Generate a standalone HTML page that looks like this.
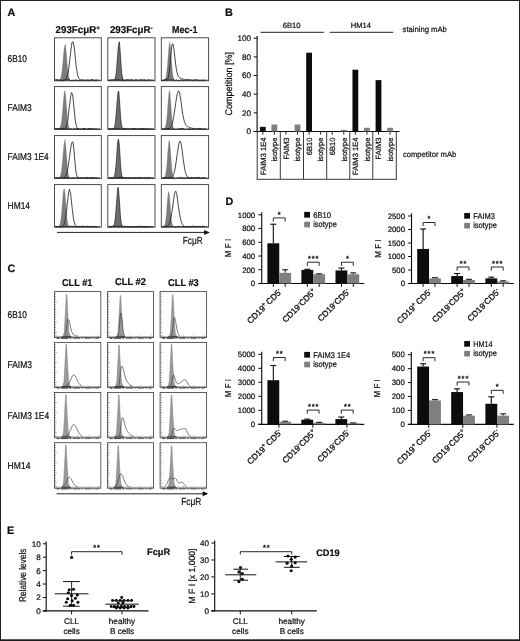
<!DOCTYPE html>
<html lang="en"><head><meta charset="utf-8"><title>Figure</title>
<style>
html,body{margin:0;padding:0;background:#fff;}
body{width:520px;height:641px;overflow:hidden;font-family:"Liberation Sans",Arial,sans-serif;}
svg{display:block;}
svg text{font-family:"Liberation Sans",Arial,sans-serif;}
</style></head><body>
<svg width="520" height="641" viewBox="0 0 520 641" shape-rendering="auto" text-rendering="geometricPrecision">
<defs><filter id="sb" x="0" y="0" width="100%" height="100%" filterUnits="userSpaceOnUse" primitiveUnits="userSpaceOnUse"><feGaussianBlur stdDeviation="0.35"/></filter></defs>
<g filter="url(#sb)">
<rect x="0" y="0" width="520" height="641" fill="#fff"/>
<rect x="0.5" y="0.5" width="519" height="639.5" fill="none" stroke="#1a1a1a" stroke-width="0.95"/>
<rect x="0" y="639.6" width="520" height="1.4" fill="#1a1a1a"/>
<text x="7.60" y="16.00" font-size="10.8" font-weight="bold" fill="#111" stroke="#111" stroke-width="0.2" >A</text>
<text x="225.10" y="16.00" font-size="10.8" font-weight="bold" fill="#111" stroke="#111" stroke-width="0.2" >B</text>
<text x="7.60" y="271.60" font-size="10.8" font-weight="bold" fill="#111" stroke="#111" stroke-width="0.2" >C</text>
<text x="225.40" y="205.10" font-size="10.8" font-weight="bold" fill="#111" stroke="#111" stroke-width="0.2" >D</text>
<text x="6.90" y="534.20" font-size="10.8" font-weight="bold" fill="#111" stroke="#111" stroke-width="0.2" >E</text>
<text x="55.60" y="32.90" font-size="10" font-weight="bold" textLength="44.3" lengthAdjust="spacingAndGlyphs" fill="#111" stroke="#111" stroke-width="0.2" >293FcμR<tspan dy="-3.2" font-size="6.5">+</tspan></text>
<text x="109.90" y="32.90" font-size="10" font-weight="bold" textLength="42.7" lengthAdjust="spacingAndGlyphs" fill="#111" stroke="#111" stroke-width="0.2" >293FcμR<tspan dy="-3.2" font-size="6.5">-</tspan></text>
<text x="172.00" y="32.90" font-size="10" font-weight="bold" textLength="25.4" lengthAdjust="spacingAndGlyphs" fill="#111" stroke="#111" stroke-width="0.2" >Mec-1</text>
<text x="7.60" y="62.00" font-size="9.9" textLength="19.4" lengthAdjust="spacingAndGlyphs" fill="#111" stroke="#111" stroke-width="0.22" >6B10</text>
<text x="7.60" y="110.60" font-size="9.9" textLength="24.1" lengthAdjust="spacingAndGlyphs" fill="#111" stroke="#111" stroke-width="0.22" >FAIM3</text>
<text x="7.60" y="159.60" font-size="9.9" textLength="41.1" lengthAdjust="spacingAndGlyphs" fill="#111" stroke="#111" stroke-width="0.22" >FAIM3 1E4</text>
<text x="7.60" y="208.70" font-size="9.9" textLength="22.4" lengthAdjust="spacingAndGlyphs" fill="#111" stroke="#111" stroke-width="0.22" >HM14</text>
<path d="M55.50 80.20 L56.00 80.20 L56.50 80.20 L57.00 80.20 L57.50 80.19 L58.00 80.17 L58.50 80.12 L59.00 79.99 L59.50 79.75 L60.00 79.23 L60.50 78.35 L61.00 76.82 L61.50 74.31 L62.00 70.61 L62.50 66.56 L63.00 61.19 L63.50 55.04 L64.00 49.28 L64.50 46.17 L65.00 44.87 L65.50 44.58 L66.00 50.10 L66.50 54.29 L67.00 61.38 L67.50 67.34 L68.00 72.08 L68.50 75.44 L69.00 77.59 L69.50 78.97 L70.00 79.64 L70.50 79.97 L71.00 80.11 L71.50 80.17 L72.00 80.19 L72.50 80.20 L73.00 80.20 L73.50 80.20 L74.00 80.20 L74.50 80.20 L75.00 80.20 L75.50 80.20 L76.00 80.20 L76.50 80.20 L77.00 80.20 L77.50 80.20 L78.00 80.20 L78.50 80.20 L79.00 80.20 L79.50 80.20 L80.00 80.20 L80.50 80.20 L81.00 80.20 L81.50 80.20 L82.00 80.20 L82.50 80.20 L83.00 80.20 L83.50 80.20 L84.00 80.20 L84.50 80.20 L85.00 80.20 L85.50 80.20 L86.00 80.20 L86.50 80.20 L87.00 80.20 L87.50 80.20 L88.00 80.20 L88.50 80.20 L89.00 80.20 L89.50 80.20 L90.00 80.20 L90.50 80.20 L91.00 80.20 L91.50 80.20 L92.00 80.20 L92.50 80.20 L93.00 80.20 L93.50 80.20 L94.00 80.20 L94.50 80.20 L95.00 80.20 L95.50 80.20 L96.00 80.20 L96.50 80.20 L97.00 80.20 L97.50 80.20 L98.00 80.20 L98.50 80.20 L99.00 80.20 L99.50 80.20 L100.00 80.20 L100.00 80.20 L55.50 80.20 Z" fill="#7c7c7c" stroke="#7c7c7c" stroke-width="0.3"/>
<path d="M55.50 80.20 L56.00 80.20 L56.50 80.20 L57.00 80.20 L57.50 80.20 L58.00 80.20 L58.50 80.20 L59.00 80.20 L59.50 80.20 L60.00 80.20 L60.50 80.20 L61.00 80.20 L61.50 80.20 L62.00 80.19 L62.50 80.18 L63.00 80.17 L63.50 80.14 L64.00 80.07 L64.50 79.96 L65.00 79.76 L65.50 79.42 L66.00 78.91 L66.50 78.12 L67.00 76.93 L67.50 75.25 L68.00 73.19 L68.50 70.05 L69.00 66.56 L69.50 62.40 L70.00 57.97 L70.50 53.78 L71.00 49.45 L71.50 46.12 L72.00 42.58 L72.50 41.91 L73.00 41.78 L73.50 43.04 L74.00 46.04 L74.50 49.86 L75.00 54.89 L75.50 59.78 L76.00 64.29 L76.50 68.43 L77.00 71.76 L77.50 74.54 L78.00 76.39 L78.50 77.85 L79.00 78.82 L79.50 79.41 L80.00 79.77 L80.50 79.97 L81.00 80.09 L81.50 80.14 L82.00 80.17 L82.50 80.19 L83.00 80.20 L83.50 80.20 L84.00 80.20 L84.50 80.20 L85.00 80.20 L85.50 80.20 L86.00 80.20 L86.50 80.20 L87.00 80.20 L87.50 80.20 L88.00 80.20 L88.50 80.20 L89.00 80.20 L89.50 80.20 L90.00 80.20 L90.50 80.20 L91.00 80.20 L91.50 80.20 L92.00 80.20 L92.50 80.20 L93.00 80.20 L93.50 80.20 L94.00 80.20 L94.50 80.20 L95.00 80.20 L95.50 80.20 L96.00 80.20 L96.50 80.20 L97.00 80.20 L97.50 80.20 L98.00 80.20 L98.50 80.20 L99.00 80.20 L99.50 80.20 L100.00 80.20" fill="none" stroke="#222" stroke-width="0.85" stroke-linejoin="round"/>
<path d="M55.0 80.2 L56.0 79.73 L57.0 80.01 L58.0 79.99 L59.0 80.46 L60.0 80.75 L61.0 80.19 L62.0 80.73 L63.0 80.79 L64.0 80.75 L65.0 80.10 L66.0 79.94 L67.0 79.95 L68.0 79.92 L69.0 79.92 L70.0 80.39 L71.0 80.69 L72.0 80.62 L73.0 80.23 L74.0 80.42 L75.0 80.58 L76.0 79.79 L77.0 80.43 L78.0 80.70 L79.0 80.56 L80.0 80.53 L81.0 80.23 L82.0 79.90 L83.0 80.57 L84.0 80.07 L85.0 80.58 L86.0 80.77 L87.0 80.14 L88.0 80.14 L89.0 80.74 L90.0 80.50 L91.0 79.89 L92.0 79.84 L93.0 79.87 L94.0 80.70 L95.0 80.59 L96.0 79.86 L97.0 80.61" fill="none" stroke="#1c1c1c" stroke-width="1.0"/>
<rect x="54.50" y="37.80" width="46.80" height="43.00" fill="none" stroke="#3a3a3a" stroke-width="0.9"/>
<path d="M108.80 80.20 L109.30 80.20 L109.80 80.20 L110.30 80.20 L110.80 80.20 L111.30 80.20 L111.80 80.20 L112.30 80.20 L112.80 80.18 L113.30 80.15 L113.80 80.04 L114.30 79.77 L114.80 79.16 L115.30 77.98 L115.80 75.75 L116.30 72.11 L116.80 66.92 L117.30 59.97 L117.80 53.35 L118.30 46.92 L118.80 43.78 L119.30 41.74 L119.80 46.76 L120.30 53.36 L120.80 61.04 L121.30 67.92 L121.80 73.54 L122.30 76.80 L122.80 78.74 L123.30 79.63 L123.80 80.00 L124.30 80.14 L124.80 80.18 L125.30 80.20 L125.80 80.20 L126.30 80.20 L126.80 80.20 L127.30 80.20 L127.80 80.20 L128.30 80.20 L128.80 80.20 L129.30 80.20 L129.80 80.20 L130.30 80.20 L130.80 80.20 L131.30 80.20 L131.80 80.20 L132.30 80.20 L132.80 80.20 L133.30 80.20 L133.80 80.20 L134.30 80.20 L134.80 80.20 L135.30 80.20 L135.80 80.20 L136.30 80.20 L136.80 80.20 L137.30 80.20 L137.80 80.20 L138.30 80.20 L138.80 80.20 L139.30 80.20 L139.80 80.20 L140.30 80.20 L140.80 80.20 L141.30 80.20 L141.80 80.20 L142.30 80.20 L142.80 80.20 L143.30 80.20 L143.80 80.20 L144.30 80.20 L144.80 80.20 L145.30 80.20 L145.80 80.20 L146.30 80.20 L146.80 80.20 L147.30 80.20 L147.80 80.20 L148.30 80.20 L148.80 80.20 L149.30 80.20 L149.80 80.20 L150.30 80.20 L150.80 80.20 L151.30 80.20 L151.80 80.20 L152.30 80.20 L152.80 80.20 L153.30 80.20 L153.80 80.20 L153.80 80.20 L108.80 80.20 Z" fill="#6e6e6e" stroke="#222" stroke-width="0.7" stroke-linejoin="round"/>
<path d="M108.3 80.2 L109.3 80.17 L110.3 80.27 L111.3 80.07 L112.3 79.92 L113.3 80.05 L114.3 80.49 L115.3 79.72 L116.3 80.31 L117.3 80.18 L118.3 79.72 L119.3 80.06 L120.3 80.39 L121.3 80.26 L122.3 79.77 L123.3 80.78 L124.3 80.57 L125.3 80.77 L126.3 79.82 L127.3 79.99 L128.3 79.74 L129.3 80.56 L130.3 80.00 L131.3 79.84 L132.3 80.16 L133.3 80.70 L134.3 80.60 L135.3 79.98 L136.3 79.86 L137.3 80.71 L138.3 80.33 L139.3 80.47 L140.3 79.80 L141.3 79.76 L142.3 80.46 L143.3 80.17 L144.3 79.78 L145.3 80.73 L146.3 80.40 L147.3 80.58 L148.3 79.79 L149.3 80.64 L150.3 79.77" fill="none" stroke="#1c1c1c" stroke-width="1.0"/>
<rect x="107.80" y="37.80" width="47.20" height="43.00" fill="none" stroke="#3a3a3a" stroke-width="0.9"/>
<path d="M162.30 80.20 L162.80 80.19 L163.30 80.17 L163.80 80.11 L164.30 79.95 L164.80 79.62 L165.30 78.91 L165.80 77.48 L166.30 75.18 L166.80 71.61 L167.30 66.57 L167.80 60.56 L168.30 53.82 L168.80 47.80 L169.30 43.96 L169.80 41.99 L170.30 45.50 L170.80 50.43 L171.30 57.78 L171.80 64.41 L172.30 70.42 L172.80 74.52 L173.30 77.29 L173.80 78.77 L174.30 79.59 L174.80 79.97 L175.30 80.12 L175.80 80.17 L176.30 80.19 L176.80 80.20 L177.30 80.20 L177.80 80.20 L178.30 80.20 L178.80 80.20 L179.30 80.20 L179.80 80.20 L180.30 80.20 L180.80 80.20 L181.30 80.20 L181.80 80.20 L182.30 80.20 L182.80 80.20 L183.30 80.20 L183.80 80.20 L184.30 80.20 L184.80 80.20 L185.30 80.20 L185.80 80.20 L186.30 80.20 L186.80 80.20 L187.30 80.20 L187.80 80.20 L188.30 80.20 L188.80 80.20 L189.30 80.20 L189.80 80.20 L190.30 80.20 L190.80 80.20 L191.30 80.20 L191.80 80.20 L192.30 80.20 L192.80 80.20 L193.30 80.20 L193.80 80.20 L194.30 80.20 L194.80 80.20 L195.30 80.20 L195.80 80.20 L196.30 80.20 L196.80 80.20 L197.30 80.20 L197.80 80.20 L198.30 80.20 L198.80 80.20 L199.30 80.20 L199.80 80.20 L200.30 80.20 L200.80 80.20 L201.30 80.20 L201.80 80.20 L202.30 80.20 L202.80 80.20 L203.30 80.20 L203.80 80.20 L204.30 80.20 L204.80 80.20 L205.30 80.20 L205.80 80.20 L206.30 80.20 L206.80 80.20 L207.30 80.20 L207.30 80.20 L162.30 80.20 Z" fill="#7c7c7c" stroke="#7c7c7c" stroke-width="0.3"/>
<path d="M162.30 80.20 L162.80 80.20 L163.30 80.20 L163.80 80.20 L164.30 80.20 L164.80 80.20 L165.30 80.18 L165.80 80.16 L166.30 80.09 L166.80 79.91 L167.30 79.55 L167.80 78.80 L168.30 77.46 L168.80 75.23 L169.30 71.94 L169.80 67.21 L170.30 61.67 L170.80 55.50 L171.30 50.28 L171.80 46.25 L172.30 44.04 L172.80 43.91 L173.30 46.02 L173.80 48.09 L174.30 52.36 L174.80 56.64 L175.30 61.01 L175.80 65.06 L176.30 68.71 L176.80 71.70 L177.30 73.57 L177.80 75.13 L178.30 76.24 L178.80 76.96 L179.30 77.45 L179.80 77.86 L180.30 78.08 L180.80 78.34 L181.30 78.56 L181.80 78.73 L182.30 78.87 L182.80 79.06 L183.30 79.19 L183.80 79.33 L184.30 79.47 L184.80 79.59 L185.30 79.69 L185.80 79.77 L186.30 79.85 L186.80 79.92 L187.30 79.97 L187.80 80.02 L188.30 80.06 L188.80 80.09 L189.30 80.11 L189.80 80.14 L190.30 80.15 L190.80 80.16 L191.30 80.17 L191.80 80.18 L192.30 80.19 L192.80 80.19 L193.30 80.19 L193.80 80.19 L194.30 80.20 L194.80 80.20 L195.30 80.20 L195.80 80.20 L196.30 80.20 L196.80 80.20 L197.30 80.20 L197.80 80.20 L198.30 80.20 L198.80 80.20 L199.30 80.20 L199.80 80.20 L200.30 80.20 L200.80 80.20 L201.30 80.20 L201.80 80.20 L202.30 80.20 L202.80 80.20 L203.30 80.20 L203.80 80.20 L204.30 80.20 L204.80 80.20 L205.30 80.20 L205.80 80.20 L206.30 80.20 L206.80 80.20 L207.30 80.20" fill="none" stroke="#222" stroke-width="0.85" stroke-linejoin="round"/>
<path d="M161.8 80.2 L162.8 80.69 L163.8 80.23 L164.8 79.73 L165.8 79.70 L166.8 80.24 L167.8 80.20 L168.8 80.03 L169.8 79.85 L170.8 80.08 L171.8 80.05 L172.8 80.62 L173.8 79.70 L174.8 80.53 L175.8 80.62 L176.8 79.83 L177.8 80.72 L178.8 80.48 L179.8 80.69 L180.8 80.02 L181.8 80.11 L182.8 80.13 L183.8 80.80 L184.8 80.35 L185.8 80.10 L186.8 80.17 L187.8 80.00 L188.8 79.75 L189.8 79.81 L190.8 80.62 L191.8 80.01 L192.8 80.73 L193.8 79.97 L194.8 79.99 L195.8 80.26 L196.8 79.91 L197.8 80.11 L198.8 80.75 L199.8 80.67 L200.8 80.59 L201.8 80.39 L202.8 80.70 L203.8 80.73 L204.8 80.30" fill="none" stroke="#1c1c1c" stroke-width="1.0"/>
<rect x="161.30" y="37.80" width="47.30" height="43.00" fill="none" stroke="#3a3a3a" stroke-width="0.9"/>
<path d="M55.50 128.90 L56.00 128.90 L56.50 128.90 L57.00 128.89 L57.50 128.88 L58.00 128.85 L58.50 128.77 L59.00 128.60 L59.50 128.21 L60.00 127.55 L60.50 126.28 L61.00 124.27 L61.50 121.25 L62.00 116.75 L62.50 111.11 L63.00 105.94 L63.50 99.36 L64.00 94.99 L64.50 91.21 L65.00 90.82 L65.50 93.82 L66.00 99.20 L66.50 106.02 L67.00 112.28 L67.50 118.65 L68.00 123.12 L68.50 125.77 L69.00 127.42 L69.50 128.29 L70.00 128.67 L70.50 128.82 L71.00 128.87 L71.50 128.89 L72.00 128.90 L72.50 128.90 L73.00 128.90 L73.50 128.90 L74.00 128.90 L74.50 128.90 L75.00 128.90 L75.50 128.90 L76.00 128.90 L76.50 128.90 L77.00 128.90 L77.50 128.90 L78.00 128.90 L78.50 128.90 L79.00 128.90 L79.50 128.90 L80.00 128.90 L80.50 128.90 L81.00 128.90 L81.50 128.90 L82.00 128.90 L82.50 128.90 L83.00 128.90 L83.50 128.90 L84.00 128.90 L84.50 128.90 L85.00 128.90 L85.50 128.90 L86.00 128.90 L86.50 128.90 L87.00 128.90 L87.50 128.90 L88.00 128.90 L88.50 128.90 L89.00 128.90 L89.50 128.90 L90.00 128.90 L90.50 128.90 L91.00 128.90 L91.50 128.90 L92.00 128.90 L92.50 128.90 L93.00 128.90 L93.50 128.90 L94.00 128.90 L94.50 128.90 L95.00 128.90 L95.50 128.90 L96.00 128.90 L96.50 128.90 L97.00 128.90 L97.50 128.90 L98.00 128.90 L98.50 128.90 L99.00 128.90 L99.50 128.90 L100.00 128.90 L100.00 128.90 L55.50 128.90 Z" fill="#7c7c7c" stroke="#7c7c7c" stroke-width="0.3"/>
<path d="M55.50 128.90 L56.00 128.90 L56.50 128.90 L57.00 128.90 L57.50 128.90 L58.00 128.90 L58.50 128.90 L59.00 128.90 L59.50 128.90 L60.00 128.90 L60.50 128.90 L61.00 128.90 L61.50 128.90 L62.00 128.90 L62.50 128.89 L63.00 128.88 L63.50 128.86 L64.00 128.80 L64.50 128.66 L65.00 128.41 L65.50 127.96 L66.00 127.20 L66.50 125.92 L67.00 124.02 L67.50 121.53 L68.00 118.35 L68.50 114.28 L69.00 109.78 L69.50 105.94 L70.00 101.90 L70.50 97.68 L71.00 94.51 L71.50 92.54 L72.00 93.29 L72.50 94.22 L73.00 97.75 L73.50 102.63 L74.00 108.08 L74.50 112.78 L75.00 117.91 L75.50 121.62 L76.00 124.63 L76.50 126.54 L77.00 127.67 L77.50 128.33 L78.00 128.65 L78.50 128.80 L79.00 128.87 L79.50 128.89 L80.00 128.90 L80.50 128.90 L81.00 128.90 L81.50 128.90 L82.00 128.90 L82.50 128.90 L83.00 128.90 L83.50 128.90 L84.00 128.90 L84.50 128.90 L85.00 128.90 L85.50 128.90 L86.00 128.90 L86.50 128.90 L87.00 128.90 L87.50 128.90 L88.00 128.90 L88.50 128.90 L89.00 128.90 L89.50 128.90 L90.00 128.90 L90.50 128.90 L91.00 128.90 L91.50 128.90 L92.00 128.90 L92.50 128.90 L93.00 128.90 L93.50 128.90 L94.00 128.90 L94.50 128.90 L95.00 128.90 L95.50 128.90 L96.00 128.90 L96.50 128.90 L97.00 128.90 L97.50 128.90 L98.00 128.90 L98.50 128.90 L99.00 128.90 L99.50 128.90 L100.00 128.90" fill="none" stroke="#222" stroke-width="0.85" stroke-linejoin="round"/>
<path d="M55.0 128.9 L56.0 128.61 L57.0 128.80 L58.0 129.39 L59.0 128.43 L60.0 128.85 L61.0 129.29 L62.0 129.24 L63.0 128.44 L64.0 128.44 L65.0 128.47 L66.0 129.41 L67.0 128.68 L68.0 129.22 L69.0 129.39 L70.0 128.77 L71.0 128.70 L72.0 129.45 L73.0 129.08 L74.0 128.69 L75.0 129.19 L76.0 128.75 L77.0 128.70 L78.0 128.40 L79.0 129.23 L80.0 129.41 L81.0 129.10 L82.0 129.44 L83.0 128.43 L84.0 128.66 L85.0 128.92 L86.0 129.45 L87.0 129.45 L88.0 128.83 L89.0 128.68 L90.0 128.87 L91.0 128.94 L92.0 129.42 L93.0 128.60 L94.0 129.28 L95.0 129.21 L96.0 129.31 L97.0 129.25" fill="none" stroke="#1c1c1c" stroke-width="1.0"/>
<rect x="54.50" y="86.60" width="46.80" height="42.90" fill="none" stroke="#3a3a3a" stroke-width="0.9"/>
<path d="M108.80 128.90 L109.30 128.90 L109.80 128.90 L110.30 128.90 L110.80 128.90 L111.30 128.90 L111.80 128.89 L112.30 128.87 L112.80 128.82 L113.30 128.67 L113.80 128.31 L114.30 127.47 L114.80 125.91 L115.30 122.92 L115.80 118.52 L116.30 112.37 L116.80 106.18 L117.30 99.65 L117.80 94.34 L118.30 90.98 L118.80 91.86 L119.30 97.66 L119.80 105.44 L120.30 112.88 L120.80 119.17 L121.30 123.70 L121.80 126.43 L122.30 127.86 L122.80 128.52 L123.30 128.78 L123.80 128.86 L124.30 128.89 L124.80 128.90 L125.30 128.90 L125.80 128.90 L126.30 128.90 L126.80 128.90 L127.30 128.90 L127.80 128.90 L128.30 128.90 L128.80 128.90 L129.30 128.90 L129.80 128.90 L130.30 128.90 L130.80 128.90 L131.30 128.90 L131.80 128.90 L132.30 128.90 L132.80 128.90 L133.30 128.90 L133.80 128.90 L134.30 128.90 L134.80 128.90 L135.30 128.90 L135.80 128.90 L136.30 128.90 L136.80 128.90 L137.30 128.90 L137.80 128.90 L138.30 128.90 L138.80 128.90 L139.30 128.90 L139.80 128.90 L140.30 128.90 L140.80 128.90 L141.30 128.90 L141.80 128.90 L142.30 128.90 L142.80 128.90 L143.30 128.90 L143.80 128.90 L144.30 128.90 L144.80 128.90 L145.30 128.90 L145.80 128.90 L146.30 128.90 L146.80 128.90 L147.30 128.90 L147.80 128.90 L148.30 128.90 L148.80 128.90 L149.30 128.90 L149.80 128.90 L150.30 128.90 L150.80 128.90 L151.30 128.90 L151.80 128.90 L152.30 128.90 L152.80 128.90 L153.30 128.90 L153.80 128.90 L153.80 128.90 L108.80 128.90 Z" fill="#6e6e6e" stroke="#222" stroke-width="0.7" stroke-linejoin="round"/>
<path d="M108.3 128.9 L109.3 128.50 L110.3 128.58 L111.3 129.16 L112.3 128.85 L113.3 128.71 L114.3 128.74 L115.3 129.45 L116.3 128.74 L117.3 129.02 L118.3 128.79 L119.3 128.86 L120.3 129.35 L121.3 129.50 L122.3 128.80 L123.3 128.62 L124.3 129.20 L125.3 128.62 L126.3 128.41 L127.3 129.39 L128.3 128.87 L129.3 129.30 L130.3 128.85 L131.3 129.37 L132.3 128.91 L133.3 128.58 L134.3 128.42 L135.3 129.01 L136.3 129.10 L137.3 129.40 L138.3 128.50 L139.3 129.08 L140.3 128.81 L141.3 128.95 L142.3 128.56 L143.3 128.71 L144.3 128.97 L145.3 129.42 L146.3 128.52 L147.3 128.94 L148.3 129.29 L149.3 129.46 L150.3 128.62" fill="none" stroke="#1c1c1c" stroke-width="1.0"/>
<rect x="107.80" y="86.60" width="47.20" height="42.90" fill="none" stroke="#3a3a3a" stroke-width="0.9"/>
<path d="M162.30 128.90 L162.80 128.88 L163.30 128.85 L163.80 128.76 L164.30 128.56 L164.80 128.05 L165.30 127.12 L165.80 125.27 L166.30 122.41 L166.80 117.95 L167.30 112.83 L167.80 105.52 L168.30 99.85 L168.80 94.28 L169.30 90.48 L169.80 91.02 L170.30 96.65 L170.80 103.31 L171.30 110.56 L171.80 117.19 L172.30 122.31 L172.80 125.61 L173.30 127.39 L173.80 128.27 L174.30 128.67 L174.80 128.83 L175.30 128.88 L175.80 128.89 L176.30 128.90 L176.80 128.90 L177.30 128.90 L177.80 128.90 L178.30 128.90 L178.80 128.90 L179.30 128.90 L179.80 128.90 L180.30 128.90 L180.80 128.90 L181.30 128.90 L181.80 128.90 L182.30 128.90 L182.80 128.90 L183.30 128.90 L183.80 128.90 L184.30 128.90 L184.80 128.90 L185.30 128.90 L185.80 128.90 L186.30 128.90 L186.80 128.90 L187.30 128.90 L187.80 128.90 L188.30 128.90 L188.80 128.90 L189.30 128.90 L189.80 128.90 L190.30 128.90 L190.80 128.90 L191.30 128.90 L191.80 128.90 L192.30 128.90 L192.80 128.90 L193.30 128.90 L193.80 128.90 L194.30 128.90 L194.80 128.90 L195.30 128.90 L195.80 128.90 L196.30 128.90 L196.80 128.90 L197.30 128.90 L197.80 128.90 L198.30 128.90 L198.80 128.90 L199.30 128.90 L199.80 128.90 L200.30 128.90 L200.80 128.90 L201.30 128.90 L201.80 128.90 L202.30 128.90 L202.80 128.90 L203.30 128.90 L203.80 128.90 L204.30 128.90 L204.80 128.90 L205.30 128.90 L205.80 128.90 L206.30 128.90 L206.80 128.90 L207.30 128.90 L207.30 128.90 L162.30 128.90 Z" fill="#7c7c7c" stroke="#7c7c7c" stroke-width="0.3"/>
<path d="M162.30 128.90 L162.80 128.90 L163.30 128.90 L163.80 128.90 L164.30 128.90 L164.80 128.90 L165.30 128.89 L165.80 128.89 L166.30 128.87 L166.80 128.85 L167.30 128.82 L167.80 128.76 L168.30 128.67 L168.80 128.52 L169.30 128.29 L169.80 127.97 L170.30 127.50 L170.80 126.80 L171.30 125.98 L171.80 124.65 L172.30 123.16 L172.80 121.29 L173.30 118.81 L173.80 116.32 L174.30 112.81 L174.80 109.69 L175.30 106.35 L175.80 102.42 L176.30 99.41 L176.80 96.77 L177.30 93.56 L177.80 92.82 L178.30 90.74 L178.80 91.57 L179.30 92.01 L179.80 93.50 L180.30 96.79 L180.80 99.99 L181.30 103.93 L181.80 107.80 L182.30 111.20 L182.80 114.27 L183.30 116.82 L183.80 119.30 L184.30 121.24 L184.80 122.70 L185.30 124.06 L185.80 124.93 L186.30 125.53 L186.80 126.10 L187.30 126.47 L187.80 126.74 L188.30 127.00 L188.80 127.19 L189.30 127.39 L189.80 127.54 L190.30 127.71 L190.80 127.87 L191.30 127.99 L191.80 128.13 L192.30 128.25 L192.80 128.34 L193.30 128.44 L193.80 128.52 L194.30 128.59 L194.80 128.65 L195.30 128.69 L195.80 128.74 L196.30 128.77 L196.80 128.80 L197.30 128.83 L197.80 128.84 L198.30 128.86 L198.80 128.87 L199.30 128.88 L199.80 128.88 L200.30 128.89 L200.80 128.89 L201.30 128.89 L201.80 128.90 L202.30 128.90 L202.80 128.90 L203.30 128.90 L203.80 128.90 L204.30 128.90 L204.80 128.90 L205.30 128.90 L205.80 128.90 L206.30 128.90 L206.80 128.90 L207.30 128.90" fill="none" stroke="#222" stroke-width="0.85" stroke-linejoin="round"/>
<path d="M161.8 128.9 L162.8 129.07 L163.8 128.96 L164.8 129.11 L165.8 129.29 L166.8 128.59 L167.8 128.74 L168.8 128.73 L169.8 128.45 L170.8 129.38 L171.8 129.26 L172.8 129.19 L173.8 128.41 L174.8 129.33 L175.8 129.22 L176.8 128.91 L177.8 129.22 L178.8 128.90 L179.8 128.65 L180.8 128.52 L181.8 128.66 L182.8 128.44 L183.8 128.77 L184.8 129.22 L185.8 129.16 L186.8 129.33 L187.8 129.18 L188.8 128.69 L189.8 129.01 L190.8 128.88 L191.8 129.27 L192.8 128.98 L193.8 128.69 L194.8 129.11 L195.8 129.46 L196.8 128.64 L197.8 129.37 L198.8 128.42 L199.8 128.69 L200.8 128.66 L201.8 129.22 L202.8 129.44 L203.8 129.22 L204.8 128.76" fill="none" stroke="#1c1c1c" stroke-width="1.0"/>
<rect x="161.30" y="86.60" width="47.30" height="42.90" fill="none" stroke="#3a3a3a" stroke-width="0.9"/>
<path d="M55.50 177.90 L56.00 177.90 L56.50 177.90 L57.00 177.89 L57.50 177.88 L58.00 177.85 L58.50 177.77 L59.00 177.59 L59.50 177.23 L60.00 176.51 L60.50 175.27 L61.00 173.19 L61.50 170.29 L62.00 165.92 L62.50 160.76 L63.00 155.18 L63.50 149.51 L64.00 143.77 L64.50 141.77 L65.00 139.14 L65.50 143.33 L66.00 148.83 L66.50 155.45 L67.00 161.47 L67.50 167.87 L68.00 172.22 L68.50 174.97 L69.00 176.52 L69.50 177.29 L70.00 177.66 L70.50 177.82 L71.00 177.87 L71.50 177.89 L72.00 177.90 L72.50 177.90 L73.00 177.90 L73.50 177.90 L74.00 177.90 L74.50 177.90 L75.00 177.90 L75.50 177.90 L76.00 177.90 L76.50 177.90 L77.00 177.90 L77.50 177.90 L78.00 177.90 L78.50 177.90 L79.00 177.90 L79.50 177.90 L80.00 177.90 L80.50 177.90 L81.00 177.90 L81.50 177.90 L82.00 177.90 L82.50 177.90 L83.00 177.90 L83.50 177.90 L84.00 177.90 L84.50 177.90 L85.00 177.90 L85.50 177.90 L86.00 177.90 L86.50 177.90 L87.00 177.90 L87.50 177.90 L88.00 177.90 L88.50 177.90 L89.00 177.90 L89.50 177.90 L90.00 177.90 L90.50 177.90 L91.00 177.90 L91.50 177.90 L92.00 177.90 L92.50 177.90 L93.00 177.90 L93.50 177.90 L94.00 177.90 L94.50 177.90 L95.00 177.90 L95.50 177.90 L96.00 177.90 L96.50 177.90 L97.00 177.90 L97.50 177.90 L98.00 177.90 L98.50 177.90 L99.00 177.90 L99.50 177.90 L100.00 177.90 L100.00 177.90 L55.50 177.90 Z" fill="#7c7c7c" stroke="#7c7c7c" stroke-width="0.3"/>
<path d="M55.50 177.90 L56.00 177.90 L56.50 177.90 L57.00 177.90 L57.50 177.90 L58.00 177.90 L58.50 177.90 L59.00 177.90 L59.50 177.90 L60.00 177.90 L60.50 177.89 L61.00 177.89 L61.50 177.88 L62.00 177.85 L62.50 177.81 L63.00 177.75 L63.50 177.64 L64.00 177.45 L64.50 177.15 L65.00 176.74 L65.50 176.05 L66.00 175.22 L66.50 173.96 L67.00 172.31 L67.50 170.02 L68.00 167.55 L68.50 164.56 L69.00 160.79 L69.50 157.55 L70.00 153.57 L70.50 149.84 L71.00 146.30 L71.50 143.66 L72.00 142.04 L72.50 141.72 L73.00 142.61 L73.50 146.20 L74.00 150.62 L74.50 156.90 L75.00 162.78 L75.50 168.08 L76.00 171.80 L76.50 174.38 L77.00 176.06 L77.50 177.02 L78.00 177.50 L78.50 177.73 L79.00 177.84 L79.50 177.88 L80.00 177.89 L80.50 177.90 L81.00 177.90 L81.50 177.90 L82.00 177.90 L82.50 177.90 L83.00 177.90 L83.50 177.90 L84.00 177.90 L84.50 177.90 L85.00 177.90 L85.50 177.90 L86.00 177.90 L86.50 177.90 L87.00 177.90 L87.50 177.90 L88.00 177.90 L88.50 177.90 L89.00 177.90 L89.50 177.90 L90.00 177.90 L90.50 177.90 L91.00 177.90 L91.50 177.90 L92.00 177.90 L92.50 177.90 L93.00 177.90 L93.50 177.90 L94.00 177.90 L94.50 177.90 L95.00 177.90 L95.50 177.90 L96.00 177.90 L96.50 177.90 L97.00 177.90 L97.50 177.90 L98.00 177.90 L98.50 177.90 L99.00 177.90 L99.50 177.90 L100.00 177.90" fill="none" stroke="#222" stroke-width="0.85" stroke-linejoin="round"/>
<path d="M55.0 177.9 L56.0 177.86 L57.0 177.65 L58.0 178.19 L59.0 178.37 L60.0 178.25 L61.0 178.17 L62.0 178.34 L63.0 178.15 L64.0 178.11 L65.0 177.90 L66.0 177.74 L67.0 178.09 L68.0 177.51 L69.0 177.86 L70.0 178.26 L71.0 178.18 L72.0 178.09 L73.0 177.68 L74.0 177.87 L75.0 177.90 L76.0 178.08 L77.0 177.85 L78.0 178.14 L79.0 178.42 L80.0 177.60 L81.0 178.12 L82.0 178.26 L83.0 177.83 L84.0 177.94 L85.0 178.47 L86.0 177.44 L87.0 178.00 L88.0 177.58 L89.0 178.26 L90.0 178.43 L91.0 177.97 L92.0 177.51 L93.0 178.03 L94.0 178.00 L95.0 178.19 L96.0 177.96 L97.0 178.10" fill="none" stroke="#1c1c1c" stroke-width="1.0"/>
<rect x="54.50" y="135.60" width="46.80" height="42.90" fill="none" stroke="#3a3a3a" stroke-width="0.9"/>
<path d="M108.80 177.90 L109.30 177.90 L109.80 177.90 L110.30 177.90 L110.80 177.90 L111.30 177.90 L111.80 177.89 L112.30 177.87 L112.80 177.82 L113.30 177.65 L113.80 177.28 L114.30 176.47 L114.80 174.82 L115.30 171.92 L115.80 167.71 L116.30 161.37 L116.80 154.18 L117.30 146.50 L117.80 141.59 L118.30 139.23 L118.80 140.69 L119.30 145.02 L119.80 152.59 L120.30 161.22 L120.80 168.08 L121.30 172.49 L121.80 175.40 L122.30 176.86 L122.80 177.52 L123.30 177.77 L123.80 177.86 L124.30 177.89 L124.80 177.90 L125.30 177.90 L125.80 177.90 L126.30 177.90 L126.80 177.90 L127.30 177.90 L127.80 177.90 L128.30 177.90 L128.80 177.90 L129.30 177.90 L129.80 177.90 L130.30 177.90 L130.80 177.90 L131.30 177.90 L131.80 177.90 L132.30 177.90 L132.80 177.90 L133.30 177.90 L133.80 177.90 L134.30 177.90 L134.80 177.90 L135.30 177.90 L135.80 177.90 L136.30 177.90 L136.80 177.90 L137.30 177.90 L137.80 177.90 L138.30 177.90 L138.80 177.90 L139.30 177.90 L139.80 177.90 L140.30 177.90 L140.80 177.90 L141.30 177.90 L141.80 177.90 L142.30 177.90 L142.80 177.90 L143.30 177.90 L143.80 177.90 L144.30 177.90 L144.80 177.90 L145.30 177.90 L145.80 177.90 L146.30 177.90 L146.80 177.90 L147.30 177.90 L147.80 177.90 L148.30 177.90 L148.80 177.90 L149.30 177.90 L149.80 177.90 L150.30 177.90 L150.80 177.90 L151.30 177.90 L151.80 177.90 L152.30 177.90 L152.80 177.90 L153.30 177.90 L153.80 177.90 L153.80 177.90 L108.80 177.90 Z" fill="#6e6e6e" stroke="#222" stroke-width="0.7" stroke-linejoin="round"/>
<path d="M108.3 177.9 L109.3 178.32 L110.3 177.62 L111.3 178.16 L112.3 177.98 L113.3 178.22 L114.3 177.88 L115.3 178.37 L116.3 178.01 L117.3 177.69 L118.3 177.66 L119.3 177.55 L120.3 177.94 L121.3 177.46 L122.3 177.91 L123.3 177.56 L124.3 177.94 L125.3 177.95 L126.3 177.99 L127.3 178.35 L128.3 177.41 L129.3 178.32 L130.3 177.91 L131.3 178.02 L132.3 178.13 L133.3 178.32 L134.3 177.81 L135.3 177.86 L136.3 178.46 L137.3 177.48 L138.3 178.10 L139.3 178.10 L140.3 177.43 L141.3 178.07 L142.3 178.15 L143.3 178.42 L144.3 177.76 L145.3 178.48 L146.3 177.96 L147.3 177.93 L148.3 178.39 L149.3 177.44 L150.3 178.19" fill="none" stroke="#1c1c1c" stroke-width="1.0"/>
<rect x="107.80" y="135.60" width="47.20" height="42.90" fill="none" stroke="#3a3a3a" stroke-width="0.9"/>
<path d="M162.30 177.89 L162.80 177.88 L163.30 177.82 L163.80 177.70 L164.30 177.40 L164.80 176.77 L165.30 175.50 L165.80 173.46 L166.30 170.01 L166.80 165.21 L167.30 159.02 L167.80 151.92 L168.30 146.67 L168.80 141.18 L169.30 140.52 L169.80 142.32 L170.30 148.20 L170.80 155.09 L171.30 162.00 L171.80 168.44 L172.30 172.72 L172.80 175.45 L173.30 176.84 L173.80 177.49 L174.30 177.75 L174.80 177.85 L175.30 177.89 L175.80 177.90 L176.30 177.90 L176.80 177.90 L177.30 177.90 L177.80 177.90 L178.30 177.90 L178.80 177.90 L179.30 177.90 L179.80 177.90 L180.30 177.90 L180.80 177.90 L181.30 177.90 L181.80 177.90 L182.30 177.90 L182.80 177.90 L183.30 177.90 L183.80 177.90 L184.30 177.90 L184.80 177.90 L185.30 177.90 L185.80 177.90 L186.30 177.90 L186.80 177.90 L187.30 177.90 L187.80 177.90 L188.30 177.90 L188.80 177.90 L189.30 177.90 L189.80 177.90 L190.30 177.90 L190.80 177.90 L191.30 177.90 L191.80 177.90 L192.30 177.90 L192.80 177.90 L193.30 177.90 L193.80 177.90 L194.30 177.90 L194.80 177.90 L195.30 177.90 L195.80 177.90 L196.30 177.90 L196.80 177.90 L197.30 177.90 L197.80 177.90 L198.30 177.90 L198.80 177.90 L199.30 177.90 L199.80 177.90 L200.30 177.90 L200.80 177.90 L201.30 177.90 L201.80 177.90 L202.30 177.90 L202.80 177.90 L203.30 177.90 L203.80 177.90 L204.30 177.90 L204.80 177.90 L205.30 177.90 L205.80 177.90 L206.30 177.90 L206.80 177.90 L207.30 177.90 L207.30 177.90 L162.30 177.90 Z" fill="#7c7c7c" stroke="#7c7c7c" stroke-width="0.3"/>
<path d="M162.30 177.90 L162.80 177.90 L163.30 177.90 L163.80 177.90 L164.30 177.90 L164.80 177.90 L165.30 177.90 L165.80 177.90 L166.30 177.90 L166.80 177.90 L167.30 177.90 L167.80 177.89 L168.30 177.88 L168.80 177.87 L169.30 177.84 L169.80 177.79 L170.30 177.70 L170.80 177.56 L171.30 177.36 L171.80 177.01 L172.30 176.52 L172.80 175.88 L173.30 174.92 L173.80 173.53 L174.30 171.77 L174.80 169.85 L175.30 167.20 L175.80 163.97 L176.30 160.94 L176.80 156.78 L177.30 153.38 L177.80 150.29 L178.30 146.74 L178.80 143.84 L179.30 142.19 L179.80 140.94 L180.30 141.85 L180.80 142.17 L181.30 145.06 L181.80 147.81 L182.30 151.51 L182.80 155.66 L183.30 159.62 L183.80 163.09 L184.30 166.39 L184.80 169.34 L185.30 171.75 L185.80 173.63 L186.30 175.03 L186.80 175.94 L187.30 176.66 L187.80 177.13 L188.30 177.45 L188.80 177.64 L189.30 177.75 L189.80 177.82 L190.30 177.86 L190.80 177.88 L191.30 177.89 L191.80 177.89 L192.30 177.90 L192.80 177.90 L193.30 177.90 L193.80 177.90 L194.30 177.90 L194.80 177.90 L195.30 177.90 L195.80 177.90 L196.30 177.90 L196.80 177.90 L197.30 177.90 L197.80 177.90 L198.30 177.90 L198.80 177.90 L199.30 177.90 L199.80 177.90 L200.30 177.90 L200.80 177.90 L201.30 177.90 L201.80 177.90 L202.30 177.90 L202.80 177.90 L203.30 177.90 L203.80 177.90 L204.30 177.90 L204.80 177.90 L205.30 177.90 L205.80 177.90 L206.30 177.90 L206.80 177.90 L207.30 177.90" fill="none" stroke="#222" stroke-width="0.85" stroke-linejoin="round"/>
<path d="M161.8 177.9 L162.8 178.15 L163.8 177.91 L164.8 177.63 L165.8 177.68 L166.8 178.23 L167.8 178.27 L168.8 177.91 L169.8 177.50 L170.8 178.29 L171.8 178.25 L172.8 177.66 L173.8 178.04 L174.8 178.39 L175.8 178.37 L176.8 177.97 L177.8 177.92 L178.8 178.05 L179.8 177.61 L180.8 177.61 L181.8 177.60 L182.8 178.17 L183.8 177.80 L184.8 178.02 L185.8 177.84 L186.8 177.97 L187.8 177.56 L188.8 177.45 L189.8 178.50 L190.8 177.81 L191.8 177.52 L192.8 178.10 L193.8 178.27 L194.8 177.57 L195.8 178.06 L196.8 177.78 L197.8 177.97 L198.8 177.42 L199.8 177.44 L200.8 178.49 L201.8 178.35 L202.8 177.93 L203.8 178.02 L204.8 177.69" fill="none" stroke="#1c1c1c" stroke-width="1.0"/>
<rect x="161.30" y="135.60" width="47.30" height="42.90" fill="none" stroke="#3a3a3a" stroke-width="0.9"/>
<path d="M55.50 226.60 L56.00 226.60 L56.50 226.60 L57.00 226.59 L57.50 226.56 L58.00 226.49 L58.50 226.35 L59.00 226.02 L59.50 225.35 L60.00 224.11 L60.50 222.05 L61.00 218.87 L61.50 214.03 L62.00 207.90 L62.50 201.95 L63.00 194.86 L63.50 189.93 L64.00 189.24 L64.50 188.45 L65.00 192.75 L65.50 199.48 L66.00 205.53 L66.50 213.06 L67.00 218.22 L67.50 221.96 L68.00 224.24 L68.50 225.55 L69.00 226.17 L69.50 226.44 L70.00 226.55 L70.50 226.58 L71.00 226.60 L71.50 226.60 L72.00 226.60 L72.50 226.60 L73.00 226.60 L73.50 226.60 L74.00 226.60 L74.50 226.60 L75.00 226.60 L75.50 226.60 L76.00 226.60 L76.50 226.60 L77.00 226.60 L77.50 226.60 L78.00 226.60 L78.50 226.60 L79.00 226.60 L79.50 226.60 L80.00 226.60 L80.50 226.60 L81.00 226.60 L81.50 226.60 L82.00 226.60 L82.50 226.60 L83.00 226.60 L83.50 226.60 L84.00 226.60 L84.50 226.60 L85.00 226.60 L85.50 226.60 L86.00 226.60 L86.50 226.60 L87.00 226.60 L87.50 226.60 L88.00 226.60 L88.50 226.60 L89.00 226.60 L89.50 226.60 L90.00 226.60 L90.50 226.60 L91.00 226.60 L91.50 226.60 L92.00 226.60 L92.50 226.60 L93.00 226.60 L93.50 226.60 L94.00 226.60 L94.50 226.60 L95.00 226.60 L95.50 226.60 L96.00 226.60 L96.50 226.60 L97.00 226.60 L97.50 226.60 L98.00 226.60 L98.50 226.60 L99.00 226.60 L99.50 226.60 L100.00 226.60 L100.00 226.60 L55.50 226.60 Z" fill="#7c7c7c" stroke="#7c7c7c" stroke-width="0.3"/>
<path d="M55.50 226.60 L56.00 226.60 L56.50 226.60 L57.00 226.60 L57.50 226.60 L58.00 226.60 L58.50 226.60 L59.00 226.60 L59.50 226.60 L60.00 226.59 L60.50 226.58 L61.00 226.56 L61.50 226.51 L62.00 226.42 L62.50 226.24 L63.00 225.93 L63.50 225.39 L64.00 224.53 L64.50 223.17 L65.00 221.10 L65.50 218.37 L66.00 214.91 L66.50 211.22 L67.00 206.50 L67.50 201.12 L68.00 197.54 L68.50 193.00 L69.00 191.15 L69.50 189.30 L70.00 191.55 L70.50 192.89 L71.00 197.20 L71.50 201.88 L72.00 206.73 L72.50 210.76 L73.00 215.09 L73.50 218.63 L74.00 221.22 L74.50 223.10 L75.00 224.53 L75.50 225.38 L76.00 225.93 L76.50 226.25 L77.00 226.42 L77.50 226.51 L78.00 226.56 L78.50 226.58 L79.00 226.59 L79.50 226.60 L80.00 226.60 L80.50 226.60 L81.00 226.60 L81.50 226.60 L82.00 226.60 L82.50 226.60 L83.00 226.60 L83.50 226.60 L84.00 226.60 L84.50 226.60 L85.00 226.60 L85.50 226.60 L86.00 226.60 L86.50 226.60 L87.00 226.60 L87.50 226.60 L88.00 226.60 L88.50 226.60 L89.00 226.60 L89.50 226.60 L90.00 226.60 L90.50 226.60 L91.00 226.60 L91.50 226.60 L92.00 226.60 L92.50 226.60 L93.00 226.60 L93.50 226.60 L94.00 226.60 L94.50 226.60 L95.00 226.60 L95.50 226.60 L96.00 226.60 L96.50 226.60 L97.00 226.60 L97.50 226.60 L98.00 226.60 L98.50 226.60 L99.00 226.60 L99.50 226.60 L100.00 226.60" fill="none" stroke="#222" stroke-width="0.85" stroke-linejoin="round"/>
<path d="M55.0 226.6 L56.0 226.17 L57.0 227.06 L58.0 227.15 L59.0 226.64 L60.0 226.66 L61.0 226.68 L62.0 226.69 L63.0 226.12 L64.0 227.16 L65.0 226.35 L66.0 226.30 L67.0 226.21 L68.0 226.38 L69.0 227.00 L70.0 226.13 L71.0 226.21 L72.0 226.87 L73.0 226.31 L74.0 226.12 L75.0 226.76 L76.0 226.73 L77.0 226.68 L78.0 226.87 L79.0 226.21 L80.0 227.06 L81.0 226.89 L82.0 226.15 L83.0 226.24 L84.0 226.64 L85.0 226.65 L86.0 226.41 L87.0 226.23 L88.0 226.55 L89.0 226.25 L90.0 226.75 L91.0 227.05 L92.0 226.26 L93.0 226.73 L94.0 226.92 L95.0 226.28 L96.0 227.01 L97.0 227.13" fill="none" stroke="#1c1c1c" stroke-width="1.0"/>
<rect x="54.50" y="184.60" width="46.80" height="42.60" fill="none" stroke="#3a3a3a" stroke-width="0.9"/>
<path d="M108.80 226.60 L109.30 226.60 L109.80 226.60 L110.30 226.60 L110.80 226.60 L111.30 226.60 L111.80 226.58 L112.30 226.55 L112.80 226.44 L113.30 226.18 L113.80 225.56 L114.30 224.24 L114.80 221.93 L115.30 218.07 L115.80 212.64 L116.30 205.73 L116.80 199.66 L117.30 192.59 L117.80 187.73 L118.30 187.47 L118.80 192.85 L119.30 199.39 L119.80 207.08 L120.30 214.52 L120.80 219.79 L121.30 223.32 L121.80 225.12 L122.30 226.02 L122.80 226.40 L123.30 226.54 L123.80 226.58 L124.30 226.60 L124.80 226.60 L125.30 226.60 L125.80 226.60 L126.30 226.60 L126.80 226.60 L127.30 226.60 L127.80 226.60 L128.30 226.60 L128.80 226.60 L129.30 226.60 L129.80 226.60 L130.30 226.60 L130.80 226.60 L131.30 226.60 L131.80 226.60 L132.30 226.60 L132.80 226.60 L133.30 226.60 L133.80 226.60 L134.30 226.60 L134.80 226.60 L135.30 226.60 L135.80 226.60 L136.30 226.60 L136.80 226.60 L137.30 226.60 L137.80 226.60 L138.30 226.60 L138.80 226.60 L139.30 226.60 L139.80 226.60 L140.30 226.60 L140.80 226.60 L141.30 226.60 L141.80 226.60 L142.30 226.60 L142.80 226.60 L143.30 226.60 L143.80 226.60 L144.30 226.60 L144.80 226.60 L145.30 226.60 L145.80 226.60 L146.30 226.60 L146.80 226.60 L147.30 226.60 L147.80 226.60 L148.30 226.60 L148.80 226.60 L149.30 226.60 L149.80 226.60 L150.30 226.60 L150.80 226.60 L151.30 226.60 L151.80 226.60 L152.30 226.60 L152.80 226.60 L153.30 226.60 L153.80 226.60 L153.80 226.60 L108.80 226.60 Z" fill="#6e6e6e" stroke="#222" stroke-width="0.7" stroke-linejoin="round"/>
<path d="M108.3 226.6 L109.3 227.19 L110.3 226.43 L111.3 226.95 L112.3 226.27 L113.3 226.17 L114.3 227.06 L115.3 226.58 L116.3 226.17 L117.3 226.53 L118.3 226.58 L119.3 226.91 L120.3 226.22 L121.3 226.35 L122.3 227.16 L123.3 226.91 L124.3 226.27 L125.3 226.47 L126.3 226.49 L127.3 226.84 L128.3 226.78 L129.3 227.03 L130.3 227.00 L131.3 226.67 L132.3 226.91 L133.3 226.92 L134.3 226.94 L135.3 226.62 L136.3 226.96 L137.3 226.88 L138.3 227.11 L139.3 226.24 L140.3 227.06 L141.3 226.10 L142.3 226.94 L143.3 226.74 L144.3 226.65 L145.3 227.16 L146.3 226.73 L147.3 226.56 L148.3 226.96 L149.3 227.06 L150.3 226.77" fill="none" stroke="#1c1c1c" stroke-width="1.0"/>
<rect x="107.80" y="184.60" width="47.20" height="42.60" fill="none" stroke="#3a3a3a" stroke-width="0.9"/>
<path d="M162.30 226.59 L162.80 226.56 L163.30 226.48 L163.80 226.27 L164.30 225.79 L164.80 224.78 L165.30 222.84 L165.80 219.72 L166.30 215.10 L166.80 208.61 L167.30 201.67 L167.80 196.04 L168.30 192.02 L168.80 191.56 L169.30 193.94 L169.80 199.82 L170.30 206.24 L170.80 213.10 L171.30 218.83 L171.80 222.26 L172.30 224.61 L172.80 225.73 L173.30 226.27 L173.80 226.49 L174.30 226.57 L174.80 226.59 L175.30 226.60 L175.80 226.60 L176.30 226.60 L176.80 226.60 L177.30 226.60 L177.80 226.60 L178.30 226.60 L178.80 226.60 L179.30 226.60 L179.80 226.60 L180.30 226.60 L180.80 226.60 L181.30 226.60 L181.80 226.60 L182.30 226.60 L182.80 226.60 L183.30 226.60 L183.80 226.60 L184.30 226.60 L184.80 226.60 L185.30 226.60 L185.80 226.60 L186.30 226.60 L186.80 226.60 L187.30 226.60 L187.80 226.60 L188.30 226.60 L188.80 226.60 L189.30 226.60 L189.80 226.60 L190.30 226.60 L190.80 226.60 L191.30 226.60 L191.80 226.60 L192.30 226.60 L192.80 226.60 L193.30 226.60 L193.80 226.60 L194.30 226.60 L194.80 226.60 L195.30 226.60 L195.80 226.60 L196.30 226.60 L196.80 226.60 L197.30 226.60 L197.80 226.60 L198.30 226.60 L198.80 226.60 L199.30 226.60 L199.80 226.60 L200.30 226.60 L200.80 226.60 L201.30 226.60 L201.80 226.60 L202.30 226.60 L202.80 226.60 L203.30 226.60 L203.80 226.60 L204.30 226.60 L204.80 226.60 L205.30 226.60 L205.80 226.60 L206.30 226.60 L206.80 226.60 L207.30 226.60 L207.30 226.60 L162.30 226.60 Z" fill="#7c7c7c" stroke="#7c7c7c" stroke-width="0.3"/>
<path d="M162.30 226.60 L162.80 226.60 L163.30 226.60 L163.80 226.60 L164.30 226.59 L164.80 226.58 L165.30 226.56 L165.80 226.52 L166.30 226.45 L166.80 226.34 L167.30 226.14 L167.80 225.83 L168.30 225.32 L168.80 224.65 L169.30 223.65 L169.80 222.30 L170.30 220.46 L170.80 218.15 L171.30 215.58 L171.80 212.45 L172.30 209.60 L172.80 206.17 L173.30 201.88 L173.80 198.79 L174.30 195.02 L174.80 192.70 L175.30 191.40 L175.80 191.13 L176.30 192.64 L176.80 194.13 L177.30 198.01 L177.80 201.96 L178.30 205.53 L178.80 209.07 L179.30 212.47 L179.80 214.94 L180.30 217.65 L180.80 219.73 L181.30 221.67 L181.80 223.08 L182.30 224.22 L182.80 225.04 L183.30 225.57 L183.80 225.97 L184.30 226.23 L184.80 226.38 L185.30 226.48 L185.80 226.54 L186.30 226.57 L186.80 226.58 L187.30 226.59 L187.80 226.60 L188.30 226.60 L188.80 226.60 L189.30 226.60 L189.80 226.60 L190.30 226.60 L190.80 226.60 L191.30 226.60 L191.80 226.60 L192.30 226.60 L192.80 226.60 L193.30 226.60 L193.80 226.60 L194.30 226.60 L194.80 226.60 L195.30 226.60 L195.80 226.60 L196.30 226.60 L196.80 226.60 L197.30 226.60 L197.80 226.60 L198.30 226.60 L198.80 226.60 L199.30 226.60 L199.80 226.60 L200.30 226.60 L200.80 226.60 L201.30 226.60 L201.80 226.60 L202.30 226.60 L202.80 226.60 L203.30 226.60 L203.80 226.60 L204.30 226.60 L204.80 226.60 L205.30 226.60 L205.80 226.60 L206.30 226.60 L206.80 226.60 L207.30 226.60" fill="none" stroke="#222" stroke-width="0.85" stroke-linejoin="round"/>
<path d="M161.8 226.6 L162.8 226.28 L163.8 226.49 L164.8 226.89 L165.8 226.51 L166.8 227.15 L167.8 226.33 L168.8 227.15 L169.8 226.66 L170.8 226.35 L171.8 226.60 L172.8 226.24 L173.8 226.88 L174.8 226.39 L175.8 227.09 L176.8 226.75 L177.8 226.50 L178.8 226.37 L179.8 226.77 L180.8 226.33 L181.8 227.06 L182.8 226.24 L183.8 226.66 L184.8 226.70 L185.8 226.40 L186.8 226.95 L187.8 226.52 L188.8 226.82 L189.8 226.72 L190.8 226.44 L191.8 226.53 L192.8 226.19 L193.8 226.29 L194.8 227.04 L195.8 226.45 L196.8 226.83 L197.8 226.22 L198.8 226.72 L199.8 226.50 L200.8 226.65 L201.8 226.43 L202.8 226.17 L203.8 226.44 L204.8 226.35" fill="none" stroke="#1c1c1c" stroke-width="1.0"/>
<rect x="161.30" y="184.60" width="47.30" height="42.60" fill="none" stroke="#3a3a3a" stroke-width="0.9"/>
<line x1="57.00" y1="232.40" x2="206.00" y2="232.40" stroke="#222" stroke-width="1.0" />
<path d="M209.8 232.4 L204.2 229.9 L204.2 234.9 Z" fill="#111"/>
<text x="182.80" y="243.90" font-size="10.3" textLength="19.8" lengthAdjust="spacingAndGlyphs" fill="#111" stroke="#111" stroke-width="0.22" >FcμR</text>
<text x="62.00" y="286.10" font-size="10" font-weight="bold" textLength="30.4" lengthAdjust="spacingAndGlyphs" fill="#111" stroke="#111" stroke-width="0.2" >CLL #1</text>
<text x="115.00" y="284.90" font-size="10" font-weight="bold" textLength="31.0" lengthAdjust="spacingAndGlyphs" fill="#111" stroke="#111" stroke-width="0.2" >CLL #2</text>
<text x="168.00" y="286.10" font-size="10" font-weight="bold" textLength="30.8" lengthAdjust="spacingAndGlyphs" fill="#111" stroke="#111" stroke-width="0.2" >CLL #3</text>
<text x="7.60" y="318.00" font-size="9.9" textLength="19.4" lengthAdjust="spacingAndGlyphs" fill="#111" stroke="#111" stroke-width="0.22" >6B10</text>
<text x="7.60" y="368.30" font-size="9.9" textLength="24.3" lengthAdjust="spacingAndGlyphs" fill="#111" stroke="#111" stroke-width="0.22" >FAIM3</text>
<text x="7.60" y="418.60" font-size="9.9" textLength="41.5" lengthAdjust="spacingAndGlyphs" fill="#111" stroke="#111" stroke-width="0.22" >FAIM3 1E4</text>
<text x="7.60" y="468.80" font-size="9.9" textLength="22.8" lengthAdjust="spacingAndGlyphs" fill="#111" stroke="#111" stroke-width="0.22" >HM14</text>
<path d="M63.00 336.40 L64.20 332.21 L65.20 315.45 L66.30 294.50 L66.80 294.50 L67.90 315.45 L69.00 332.21 L70.30 336.40 Z" fill="#9a9a9a" stroke="#7e7e7e" stroke-width="0.5" stroke-linejoin="round"/>
<path d="M65.00 335.65 L65.50 334.45 L66.00 332.21 L66.50 328.52 L67.00 324.45 L67.50 320.67 L68.00 319.42 L68.50 319.75 L69.00 320.37 L69.50 322.26 L70.00 324.41 L70.50 326.91 L71.00 329.01 L71.50 330.81 L72.00 332.24 L72.50 333.29 L73.00 334.04 L73.50 334.61 L74.00 334.99 L74.50 335.28 L75.00 335.54 L75.50 335.72 L76.00 335.89 L76.50 336.02 L77.00 336.13" fill="none" stroke="#404040" stroke-width="0.7" stroke-linejoin="round"/>
<path d="M54.9 294.16h1.1M54.9 296.71h1.1M54.9 299.27h1.1M54.9 301.82h1.8M54.9 304.38h1.1M54.9 306.93h1.1M54.9 309.49h1.1M54.9 312.04h1.8M54.9 314.60h1.1M54.9 317.16h1.1M54.9 319.71h1.1M54.9 322.27h1.8M54.9 324.82h1.1M54.9 327.38h1.1M54.9 329.93h1.1M54.9 332.49h1.8M54.9 335.04h1.1M55.66 337.10v-0.9M56.81 337.10v-1.6M57.97 337.10v-0.9M59.13 337.10v-0.9M60.29 337.10v-0.9M61.45 337.10v-0.9M62.60 337.10v-0.9M63.76 337.10v-0.9M64.92 337.10v-0.9M66.08 337.10v-0.9M67.23 337.10v-1.6M68.39 337.10v-0.9M69.55 337.10v-0.9M70.70 337.10v-0.9M71.86 337.10v-0.9M73.02 337.10v-0.9M74.18 337.10v-0.9M75.34 337.10v-0.9M76.49 337.10v-0.9M77.65 337.10v-1.6M78.81 337.10v-0.9M79.97 337.10v-0.9M81.12 337.10v-0.9M82.28 337.10v-0.9M83.44 337.10v-0.9M84.59 337.10v-0.9M85.75 337.10v-0.9M86.91 337.10v-0.9M88.07 337.10v-1.6M89.22 337.10v-0.9M90.38 337.10v-0.9M91.54 337.10v-0.9M92.70 337.10v-0.9M93.85 337.10v-0.9M95.01 337.10v-0.9M96.17 337.10v-0.9M97.33 337.10v-0.9M98.48 337.10v-1.6M99.64 337.10v-0.9" stroke="#444" stroke-width="0.55" fill="none"/>
<line x1="62.00" y1="336.70" x2="71.50" y2="336.70" stroke="#333" stroke-width="0.9" />
<rect x="54.50" y="291.60" width="46.30" height="46.00" fill="none" stroke="#444" stroke-width="0.85"/>
<line x1="56.81" y1="338.35" x2="59.59" y2="338.35" stroke="#2a2a2a" stroke-width="0.9" />
<line x1="60.98" y1="338.35" x2="68.39" y2="338.35" stroke="#2a2a2a" stroke-width="0.9" />
<line x1="69.78" y1="338.35" x2="71.17" y2="338.35" stroke="#2a2a2a" stroke-width="0.9" />
<line x1="73.02" y1="338.35" x2="79.97" y2="338.35" stroke="#5a5a5a" stroke-width="0.9" />
<line x1="81.35" y1="338.35" x2="82.74" y2="338.35" stroke="#5a5a5a" stroke-width="0.9" />
<line x1="84.59" y1="338.35" x2="91.08" y2="338.35" stroke="#5a5a5a" stroke-width="0.9" />
<line x1="92.47" y1="338.35" x2="93.85" y2="338.35" stroke="#5a5a5a" stroke-width="0.9" />
<line x1="95.24" y1="338.35" x2="98.95" y2="338.35" stroke="#5a5a5a" stroke-width="0.9" />
<path d="M116.90 336.40 L118.10 332.32 L119.10 316.00 L120.20 295.60 L120.70 295.60 L121.80 316.00 L122.90 332.32 L124.20 336.40 Z" fill="#9a9a9a" stroke="#7e7e7e" stroke-width="0.5" stroke-linejoin="round"/>
<path d="M117.50 336.13 L118.00 335.46 L118.50 333.74 L119.00 330.23 L119.50 324.56 L120.00 318.09 L120.50 313.61 L121.00 312.88 L121.50 315.58 L122.00 319.68 L122.50 324.87 L123.00 329.51 L123.50 332.71 L124.00 334.64 L124.50 335.67 L125.00 336.13" fill="none" stroke="#404040" stroke-width="0.7" stroke-linejoin="round"/>
<path d="M107.9 294.16h1.1M107.9 296.71h1.1M107.9 299.27h1.1M107.9 301.82h1.8M107.9 304.38h1.1M107.9 306.93h1.1M107.9 309.49h1.1M107.9 312.04h1.8M107.9 314.60h1.1M107.9 317.16h1.1M107.9 319.71h1.1M107.9 322.27h1.8M107.9 324.82h1.1M107.9 327.38h1.1M107.9 329.93h1.1M107.9 332.49h1.8M107.9 335.04h1.1M108.65 337.10v-0.9M109.80 337.10v-1.6M110.95 337.10v-0.9M112.10 337.10v-0.9M113.25 337.10v-0.9M114.40 337.10v-0.9M115.55 337.10v-0.9M116.70 337.10v-0.9M117.85 337.10v-0.9M119.00 337.10v-0.9M120.15 337.10v-1.6M121.30 337.10v-0.9M122.45 337.10v-0.9M123.60 337.10v-0.9M124.75 337.10v-0.9M125.90 337.10v-0.9M127.05 337.10v-0.9M128.20 337.10v-0.9M129.35 337.10v-0.9M130.50 337.10v-1.6M131.65 337.10v-0.9M132.80 337.10v-0.9M133.95 337.10v-0.9M135.10 337.10v-0.9M136.25 337.10v-0.9M137.40 337.10v-0.9M138.55 337.10v-0.9M139.70 337.10v-0.9M140.85 337.10v-1.6M142.00 337.10v-0.9M143.15 337.10v-0.9M144.30 337.10v-0.9M145.45 337.10v-0.9M146.60 337.10v-0.9M147.75 337.10v-0.9M148.90 337.10v-0.9M150.05 337.10v-0.9M151.20 337.10v-1.6M152.35 337.10v-0.9" stroke="#444" stroke-width="0.55" fill="none"/>
<line x1="115.90" y1="336.70" x2="125.40" y2="336.70" stroke="#333" stroke-width="0.9" />
<rect x="107.50" y="291.60" width="46.00" height="46.00" fill="none" stroke="#444" stroke-width="0.85"/>
<line x1="109.80" y1="338.35" x2="112.56" y2="338.35" stroke="#2a2a2a" stroke-width="0.9" />
<line x1="113.94" y1="338.35" x2="121.30" y2="338.35" stroke="#2a2a2a" stroke-width="0.9" />
<line x1="122.68" y1="338.35" x2="124.06" y2="338.35" stroke="#2a2a2a" stroke-width="0.9" />
<line x1="125.90" y1="338.35" x2="132.80" y2="338.35" stroke="#5a5a5a" stroke-width="0.9" />
<line x1="134.18" y1="338.35" x2="135.56" y2="338.35" stroke="#5a5a5a" stroke-width="0.9" />
<line x1="137.40" y1="338.35" x2="143.84" y2="338.35" stroke="#5a5a5a" stroke-width="0.9" />
<line x1="145.22" y1="338.35" x2="146.60" y2="338.35" stroke="#5a5a5a" stroke-width="0.9" />
<line x1="147.98" y1="338.35" x2="151.66" y2="338.35" stroke="#5a5a5a" stroke-width="0.9" />
<path d="M169.20 336.40 L170.40 332.23 L171.40 315.55 L172.50 294.70 L173.00 294.70 L174.10 315.55 L175.20 332.23 L176.50 336.40 Z" fill="#9a9a9a" stroke="#7e7e7e" stroke-width="0.5" stroke-linejoin="round"/>
<path d="M171.10 336.03 L171.60 335.21 L172.10 333.34 L172.60 329.67 L173.10 324.61 L173.60 319.71 L174.10 317.43 L174.60 317.84 L175.10 318.84 L175.60 321.50 L176.10 324.25 L176.60 327.05 L177.10 329.73 L177.60 331.82 L178.10 333.56 L178.60 334.73 L179.10 335.44 L179.60 335.90 L180.10 336.15" fill="none" stroke="#404040" stroke-width="0.7" stroke-linejoin="round"/>
<path d="M160.5 294.16h1.1M160.5 296.71h1.1M160.5 299.27h1.1M160.5 301.82h1.8M160.5 304.38h1.1M160.5 306.93h1.1M160.5 309.49h1.1M160.5 312.04h1.8M160.5 314.60h1.1M160.5 317.16h1.1M160.5 319.71h1.1M160.5 322.27h1.8M160.5 324.82h1.1M160.5 327.38h1.1M160.5 329.93h1.1M160.5 332.49h1.8M160.5 335.04h1.1M161.26 337.10v-0.9M162.42 337.10v-1.6M163.59 337.10v-0.9M164.75 337.10v-0.9M165.91 337.10v-0.9M167.07 337.10v-0.9M168.24 337.10v-0.9M169.40 337.10v-0.9M170.56 337.10v-0.9M171.72 337.10v-0.9M172.89 337.10v-1.6M174.05 337.10v-0.9M175.21 337.10v-0.9M176.38 337.10v-0.9M177.54 337.10v-0.9M178.70 337.10v-0.9M179.86 337.10v-0.9M181.03 337.10v-0.9M182.19 337.10v-0.9M183.35 337.10v-1.6M184.51 337.10v-0.9M185.67 337.10v-0.9M186.84 337.10v-0.9M188.00 337.10v-0.9M189.16 337.10v-0.9M190.32 337.10v-0.9M191.49 337.10v-0.9M192.65 337.10v-0.9M193.81 337.10v-1.6M194.97 337.10v-0.9M196.14 337.10v-0.9M197.30 337.10v-0.9M198.46 337.10v-0.9M199.62 337.10v-0.9M200.79 337.10v-0.9M201.95 337.10v-0.9M203.11 337.10v-0.9M204.27 337.10v-1.6M205.44 337.10v-0.9" stroke="#444" stroke-width="0.55" fill="none"/>
<line x1="168.20" y1="336.70" x2="177.70" y2="336.70" stroke="#333" stroke-width="0.9" />
<rect x="160.10" y="291.60" width="46.50" height="46.00" fill="none" stroke="#444" stroke-width="0.85"/>
<line x1="162.42" y1="338.35" x2="165.22" y2="338.35" stroke="#2a2a2a" stroke-width="0.9" />
<line x1="166.61" y1="338.35" x2="174.05" y2="338.35" stroke="#2a2a2a" stroke-width="0.9" />
<line x1="175.44" y1="338.35" x2="176.84" y2="338.35" stroke="#2a2a2a" stroke-width="0.9" />
<line x1="178.70" y1="338.35" x2="185.68" y2="338.35" stroke="#5a5a5a" stroke-width="0.9" />
<line x1="187.07" y1="338.35" x2="188.47" y2="338.35" stroke="#5a5a5a" stroke-width="0.9" />
<line x1="190.32" y1="338.35" x2="196.83" y2="338.35" stroke="#5a5a5a" stroke-width="0.9" />
<line x1="198.23" y1="338.35" x2="199.62" y2="338.35" stroke="#5a5a5a" stroke-width="0.9" />
<line x1="201.02" y1="338.35" x2="204.74" y2="338.35" stroke="#5a5a5a" stroke-width="0.9" />
<path d="M62.70 386.20 L63.90 382.03 L64.90 365.35 L66.00 344.50 L66.50 344.50 L67.60 365.35 L68.70 382.03 L70.00 386.20 Z" fill="#9a9a9a" stroke="#7e7e7e" stroke-width="0.5" stroke-linejoin="round"/>
<path d="M66.00 385.82 L66.50 385.62 L67.00 385.35 L67.50 384.97 L68.00 384.44 L68.50 383.89 L69.00 383.12 L69.50 382.15 L70.00 381.18 L70.50 380.17 L71.00 378.89 L71.50 377.88 L72.00 376.80 L72.50 376.02 L73.00 375.36 L73.50 375.00 L74.00 375.05 L74.50 375.43 L75.00 375.92 L75.50 376.39 L76.00 377.46 L76.50 378.64 L77.00 379.52 L77.50 380.75 L78.00 381.79 L78.50 382.64 L79.00 383.48 L79.50 384.13 L80.00 384.68 L80.50 385.13 L81.00 385.44 L81.50 385.69 L82.00 385.86" fill="none" stroke="#404040" stroke-width="0.7" stroke-linejoin="round"/>
<path d="M54.9 344.90h1.1M54.9 347.40h1.1M54.9 349.90h1.1M54.9 352.40h1.8M54.9 354.90h1.1M54.9 357.40h1.1M54.9 359.90h1.1M54.9 362.40h1.8M54.9 364.90h1.1M54.9 367.40h1.1M54.9 369.90h1.1M54.9 372.40h1.8M54.9 374.90h1.1M54.9 377.40h1.1M54.9 379.90h1.1M54.9 382.40h1.8M54.9 384.90h1.1M55.66 386.90v-0.9M56.81 386.90v-1.6M57.97 386.90v-0.9M59.13 386.90v-0.9M60.29 386.90v-0.9M61.45 386.90v-0.9M62.60 386.90v-0.9M63.76 386.90v-0.9M64.92 386.90v-0.9M66.08 386.90v-0.9M67.23 386.90v-1.6M68.39 386.90v-0.9M69.55 386.90v-0.9M70.70 386.90v-0.9M71.86 386.90v-0.9M73.02 386.90v-0.9M74.18 386.90v-0.9M75.34 386.90v-0.9M76.49 386.90v-0.9M77.65 386.90v-1.6M78.81 386.90v-0.9M79.97 386.90v-0.9M81.12 386.90v-0.9M82.28 386.90v-0.9M83.44 386.90v-0.9M84.59 386.90v-0.9M85.75 386.90v-0.9M86.91 386.90v-0.9M88.07 386.90v-1.6M89.22 386.90v-0.9M90.38 386.90v-0.9M91.54 386.90v-0.9M92.70 386.90v-0.9M93.85 386.90v-0.9M95.01 386.90v-0.9M96.17 386.90v-0.9M97.33 386.90v-0.9M98.48 386.90v-1.6M99.64 386.90v-0.9" stroke="#444" stroke-width="0.55" fill="none"/>
<line x1="61.70" y1="386.50" x2="71.20" y2="386.50" stroke="#333" stroke-width="0.9" />
<rect x="54.50" y="342.40" width="46.30" height="45.00" fill="none" stroke="#444" stroke-width="0.85"/>
<line x1="56.81" y1="388.15" x2="59.59" y2="388.15" stroke="#2a2a2a" stroke-width="0.9" />
<line x1="60.98" y1="388.15" x2="68.39" y2="388.15" stroke="#2a2a2a" stroke-width="0.9" />
<line x1="69.78" y1="388.15" x2="71.17" y2="388.15" stroke="#2a2a2a" stroke-width="0.9" />
<line x1="73.02" y1="388.15" x2="79.97" y2="388.15" stroke="#5a5a5a" stroke-width="0.9" />
<line x1="81.35" y1="388.15" x2="82.74" y2="388.15" stroke="#5a5a5a" stroke-width="0.9" />
<line x1="84.59" y1="388.15" x2="91.08" y2="388.15" stroke="#5a5a5a" stroke-width="0.9" />
<line x1="92.47" y1="388.15" x2="93.85" y2="388.15" stroke="#5a5a5a" stroke-width="0.9" />
<line x1="95.24" y1="388.15" x2="98.95" y2="388.15" stroke="#5a5a5a" stroke-width="0.9" />
<path d="M115.50 386.20 L116.70 382.08 L117.70 365.60 L118.80 345.00 L119.30 345.00 L120.40 365.60 L121.50 382.08 L122.80 386.20 Z" fill="#9a9a9a" stroke="#7e7e7e" stroke-width="0.5" stroke-linejoin="round"/>
<path d="M118.50 385.42 L119.00 384.05 L119.50 381.15 L120.00 376.67 L120.50 371.34 L121.00 367.80 L121.50 366.40 L122.00 366.16 L122.50 366.75 L123.00 368.25 L123.50 370.41 L124.00 372.01 L124.50 374.32 L125.00 376.06 L125.50 377.66 L126.00 379.27 L126.50 380.23 L127.00 381.27 L127.50 382.17 L128.00 382.88 L128.50 383.47 L129.00 383.98 L129.50 384.47 L130.00 384.89 L130.50 385.22 L131.00 385.47 L131.50 385.66 L132.00 385.83 L132.50 385.94" fill="none" stroke="#404040" stroke-width="0.7" stroke-linejoin="round"/>
<path d="M107.9 344.90h1.1M107.9 347.40h1.1M107.9 349.90h1.1M107.9 352.40h1.8M107.9 354.90h1.1M107.9 357.40h1.1M107.9 359.90h1.1M107.9 362.40h1.8M107.9 364.90h1.1M107.9 367.40h1.1M107.9 369.90h1.1M107.9 372.40h1.8M107.9 374.90h1.1M107.9 377.40h1.1M107.9 379.90h1.1M107.9 382.40h1.8M107.9 384.90h1.1M108.65 386.90v-0.9M109.80 386.90v-1.6M110.95 386.90v-0.9M112.10 386.90v-0.9M113.25 386.90v-0.9M114.40 386.90v-0.9M115.55 386.90v-0.9M116.70 386.90v-0.9M117.85 386.90v-0.9M119.00 386.90v-0.9M120.15 386.90v-1.6M121.30 386.90v-0.9M122.45 386.90v-0.9M123.60 386.90v-0.9M124.75 386.90v-0.9M125.90 386.90v-0.9M127.05 386.90v-0.9M128.20 386.90v-0.9M129.35 386.90v-0.9M130.50 386.90v-1.6M131.65 386.90v-0.9M132.80 386.90v-0.9M133.95 386.90v-0.9M135.10 386.90v-0.9M136.25 386.90v-0.9M137.40 386.90v-0.9M138.55 386.90v-0.9M139.70 386.90v-0.9M140.85 386.90v-1.6M142.00 386.90v-0.9M143.15 386.90v-0.9M144.30 386.90v-0.9M145.45 386.90v-0.9M146.60 386.90v-0.9M147.75 386.90v-0.9M148.90 386.90v-0.9M150.05 386.90v-0.9M151.20 386.90v-1.6M152.35 386.90v-0.9" stroke="#444" stroke-width="0.55" fill="none"/>
<line x1="114.50" y1="386.50" x2="124.00" y2="386.50" stroke="#333" stroke-width="0.9" />
<rect x="107.50" y="342.40" width="46.00" height="45.00" fill="none" stroke="#444" stroke-width="0.85"/>
<line x1="109.80" y1="388.15" x2="112.56" y2="388.15" stroke="#2a2a2a" stroke-width="0.9" />
<line x1="113.94" y1="388.15" x2="121.30" y2="388.15" stroke="#2a2a2a" stroke-width="0.9" />
<line x1="122.68" y1="388.15" x2="124.06" y2="388.15" stroke="#2a2a2a" stroke-width="0.9" />
<line x1="125.90" y1="388.15" x2="132.80" y2="388.15" stroke="#5a5a5a" stroke-width="0.9" />
<line x1="134.18" y1="388.15" x2="135.56" y2="388.15" stroke="#5a5a5a" stroke-width="0.9" />
<line x1="137.40" y1="388.15" x2="143.84" y2="388.15" stroke="#5a5a5a" stroke-width="0.9" />
<line x1="145.22" y1="388.15" x2="146.60" y2="388.15" stroke="#5a5a5a" stroke-width="0.9" />
<line x1="147.98" y1="388.15" x2="151.66" y2="388.15" stroke="#5a5a5a" stroke-width="0.9" />
<path d="M168.00 386.20 L169.20 382.03 L170.20 365.35 L171.30 344.50 L171.80 344.50 L172.90 365.35 L174.00 382.03 L175.30 386.20 Z" fill="#9a9a9a" stroke="#7e7e7e" stroke-width="0.5" stroke-linejoin="round"/>
<path d="M170.10 385.94 L170.60 385.48 L171.10 384.42 L171.60 382.51 L172.10 380.11 L172.60 377.39 L173.10 375.27 L173.60 375.10 L174.10 375.81 L174.60 377.11 L175.10 378.92 L175.60 380.54 L176.10 381.97 L176.60 382.90 L177.10 383.47 L177.60 383.79 L178.10 383.73 L178.60 383.55 L179.10 383.30 L179.60 383.04 L180.10 382.75 L180.60 382.41 L181.10 382.10 L181.60 381.74 L182.10 381.25 L182.60 380.84 L183.10 380.45 L183.60 380.19 L184.10 380.03 L184.60 379.75 L185.10 379.69 L185.60 379.89 L186.10 380.37 L186.60 381.21 L187.10 382.11 L187.60 383.09 L188.10 384.00 L188.60 384.70 L189.10 385.25 L189.60 385.62 L190.10 385.88" fill="none" stroke="#404040" stroke-width="0.7" stroke-linejoin="round"/>
<path d="M160.5 344.90h1.1M160.5 347.40h1.1M160.5 349.90h1.1M160.5 352.40h1.8M160.5 354.90h1.1M160.5 357.40h1.1M160.5 359.90h1.1M160.5 362.40h1.8M160.5 364.90h1.1M160.5 367.40h1.1M160.5 369.90h1.1M160.5 372.40h1.8M160.5 374.90h1.1M160.5 377.40h1.1M160.5 379.90h1.1M160.5 382.40h1.8M160.5 384.90h1.1M161.26 386.90v-0.9M162.42 386.90v-1.6M163.59 386.90v-0.9M164.75 386.90v-0.9M165.91 386.90v-0.9M167.07 386.90v-0.9M168.24 386.90v-0.9M169.40 386.90v-0.9M170.56 386.90v-0.9M171.72 386.90v-0.9M172.89 386.90v-1.6M174.05 386.90v-0.9M175.21 386.90v-0.9M176.38 386.90v-0.9M177.54 386.90v-0.9M178.70 386.90v-0.9M179.86 386.90v-0.9M181.03 386.90v-0.9M182.19 386.90v-0.9M183.35 386.90v-1.6M184.51 386.90v-0.9M185.67 386.90v-0.9M186.84 386.90v-0.9M188.00 386.90v-0.9M189.16 386.90v-0.9M190.32 386.90v-0.9M191.49 386.90v-0.9M192.65 386.90v-0.9M193.81 386.90v-1.6M194.97 386.90v-0.9M196.14 386.90v-0.9M197.30 386.90v-0.9M198.46 386.90v-0.9M199.62 386.90v-0.9M200.79 386.90v-0.9M201.95 386.90v-0.9M203.11 386.90v-0.9M204.27 386.90v-1.6M205.44 386.90v-0.9" stroke="#444" stroke-width="0.55" fill="none"/>
<line x1="167.00" y1="386.50" x2="176.50" y2="386.50" stroke="#333" stroke-width="0.9" />
<rect x="160.10" y="342.40" width="46.50" height="45.00" fill="none" stroke="#444" stroke-width="0.85"/>
<line x1="162.42" y1="388.15" x2="165.22" y2="388.15" stroke="#2a2a2a" stroke-width="0.9" />
<line x1="166.61" y1="388.15" x2="174.05" y2="388.15" stroke="#2a2a2a" stroke-width="0.9" />
<line x1="175.44" y1="388.15" x2="176.84" y2="388.15" stroke="#2a2a2a" stroke-width="0.9" />
<line x1="178.70" y1="388.15" x2="185.68" y2="388.15" stroke="#5a5a5a" stroke-width="0.9" />
<line x1="187.07" y1="388.15" x2="188.47" y2="388.15" stroke="#5a5a5a" stroke-width="0.9" />
<line x1="190.32" y1="388.15" x2="196.83" y2="388.15" stroke="#5a5a5a" stroke-width="0.9" />
<line x1="198.23" y1="388.15" x2="199.62" y2="388.15" stroke="#5a5a5a" stroke-width="0.9" />
<line x1="201.02" y1="388.15" x2="204.74" y2="388.15" stroke="#5a5a5a" stroke-width="0.9" />
<path d="M62.30 436.60 L63.50 432.39 L64.50 415.55 L65.60 394.50 L66.10 394.50 L67.20 415.55 L68.30 432.39 L69.60 436.60 Z" fill="#9a9a9a" stroke="#7e7e7e" stroke-width="0.5" stroke-linejoin="round"/>
<path d="M65.50 436.34 L66.00 436.20 L66.50 435.99 L67.00 435.69 L67.50 435.26 L68.00 434.77 L68.50 434.09 L69.00 433.30 L69.50 432.28 L70.00 431.13 L70.50 430.00 L71.00 428.92 L71.50 427.56 L72.00 426.37 L72.50 425.61 L73.00 425.19 L73.50 424.49 L74.00 424.42 L74.50 424.92 L75.00 425.51 L75.50 426.20 L76.00 426.96 L76.50 427.87 L77.00 429.05 L77.50 430.08 L78.00 431.31 L78.50 432.27 L79.00 433.09 L79.50 433.88 L80.00 434.55 L80.50 435.06 L81.00 435.49 L81.50 435.82 L82.00 436.05 L82.50 436.23" fill="none" stroke="#404040" stroke-width="0.7" stroke-linejoin="round"/>
<path d="M54.9 395.02h1.1M54.9 397.53h1.1M54.9 400.05h1.1M54.9 402.57h1.8M54.9 405.08h1.1M54.9 407.60h1.1M54.9 410.12h1.1M54.9 412.63h1.8M54.9 415.15h1.1M54.9 417.67h1.1M54.9 420.18h1.1M54.9 422.70h1.8M54.9 425.22h1.1M54.9 427.73h1.1M54.9 430.25h1.1M54.9 432.77h1.8M54.9 435.28h1.1M55.66 437.30v-0.9M56.81 437.30v-1.6M57.97 437.30v-0.9M59.13 437.30v-0.9M60.29 437.30v-0.9M61.45 437.30v-0.9M62.60 437.30v-0.9M63.76 437.30v-0.9M64.92 437.30v-0.9M66.08 437.30v-0.9M67.23 437.30v-1.6M68.39 437.30v-0.9M69.55 437.30v-0.9M70.70 437.30v-0.9M71.86 437.30v-0.9M73.02 437.30v-0.9M74.18 437.30v-0.9M75.34 437.30v-0.9M76.49 437.30v-0.9M77.65 437.30v-1.6M78.81 437.30v-0.9M79.97 437.30v-0.9M81.12 437.30v-0.9M82.28 437.30v-0.9M83.44 437.30v-0.9M84.59 437.30v-0.9M85.75 437.30v-0.9M86.91 437.30v-0.9M88.07 437.30v-1.6M89.22 437.30v-0.9M90.38 437.30v-0.9M91.54 437.30v-0.9M92.70 437.30v-0.9M93.85 437.30v-0.9M95.01 437.30v-0.9M96.17 437.30v-0.9M97.33 437.30v-0.9M98.48 437.30v-1.6M99.64 437.30v-0.9" stroke="#444" stroke-width="0.55" fill="none"/>
<line x1="61.30" y1="436.90" x2="70.80" y2="436.90" stroke="#333" stroke-width="0.9" />
<rect x="54.50" y="392.50" width="46.30" height="45.30" fill="none" stroke="#444" stroke-width="0.85"/>
<line x1="56.81" y1="438.55" x2="59.59" y2="438.55" stroke="#2a2a2a" stroke-width="0.9" />
<line x1="60.98" y1="438.55" x2="68.39" y2="438.55" stroke="#2a2a2a" stroke-width="0.9" />
<line x1="69.78" y1="438.55" x2="71.17" y2="438.55" stroke="#2a2a2a" stroke-width="0.9" />
<line x1="73.02" y1="438.55" x2="79.97" y2="438.55" stroke="#5a5a5a" stroke-width="0.9" />
<line x1="81.35" y1="438.55" x2="82.74" y2="438.55" stroke="#5a5a5a" stroke-width="0.9" />
<line x1="84.59" y1="438.55" x2="91.08" y2="438.55" stroke="#5a5a5a" stroke-width="0.9" />
<line x1="92.47" y1="438.55" x2="93.85" y2="438.55" stroke="#5a5a5a" stroke-width="0.9" />
<line x1="95.24" y1="438.55" x2="98.95" y2="438.55" stroke="#5a5a5a" stroke-width="0.9" />
<path d="M115.30 436.60 L116.50 432.44 L117.50 415.80 L118.60 395.00 L119.10 395.00 L120.20 415.80 L121.30 432.44 L122.60 436.60 Z" fill="#9a9a9a" stroke="#7e7e7e" stroke-width="0.5" stroke-linejoin="round"/>
<path d="M119.00 436.08 L119.50 435.14 L120.00 433.31 L120.50 430.16 L121.00 425.70 L121.50 421.20 L122.00 418.21 L122.50 417.90 L123.00 417.89 L123.50 419.63 L124.00 420.98 L124.50 423.31 L125.00 425.29 L125.50 427.11 L126.00 428.75 L126.50 429.89 L127.00 430.86 L127.50 431.70 L128.00 432.19 L128.50 432.83 L129.00 433.36 L129.50 433.81 L130.00 434.19 L130.50 434.58 L131.00 435.00 L131.50 435.33 L132.00 435.57 L132.50 435.82 L133.00 436.00 L133.50 436.16 L134.00 436.28" fill="none" stroke="#404040" stroke-width="0.7" stroke-linejoin="round"/>
<path d="M107.9 395.02h1.1M107.9 397.53h1.1M107.9 400.05h1.1M107.9 402.57h1.8M107.9 405.08h1.1M107.9 407.60h1.1M107.9 410.12h1.1M107.9 412.63h1.8M107.9 415.15h1.1M107.9 417.67h1.1M107.9 420.18h1.1M107.9 422.70h1.8M107.9 425.22h1.1M107.9 427.73h1.1M107.9 430.25h1.1M107.9 432.77h1.8M107.9 435.28h1.1M108.65 437.30v-0.9M109.80 437.30v-1.6M110.95 437.30v-0.9M112.10 437.30v-0.9M113.25 437.30v-0.9M114.40 437.30v-0.9M115.55 437.30v-0.9M116.70 437.30v-0.9M117.85 437.30v-0.9M119.00 437.30v-0.9M120.15 437.30v-1.6M121.30 437.30v-0.9M122.45 437.30v-0.9M123.60 437.30v-0.9M124.75 437.30v-0.9M125.90 437.30v-0.9M127.05 437.30v-0.9M128.20 437.30v-0.9M129.35 437.30v-0.9M130.50 437.30v-1.6M131.65 437.30v-0.9M132.80 437.30v-0.9M133.95 437.30v-0.9M135.10 437.30v-0.9M136.25 437.30v-0.9M137.40 437.30v-0.9M138.55 437.30v-0.9M139.70 437.30v-0.9M140.85 437.30v-1.6M142.00 437.30v-0.9M143.15 437.30v-0.9M144.30 437.30v-0.9M145.45 437.30v-0.9M146.60 437.30v-0.9M147.75 437.30v-0.9M148.90 437.30v-0.9M150.05 437.30v-0.9M151.20 437.30v-1.6M152.35 437.30v-0.9" stroke="#444" stroke-width="0.55" fill="none"/>
<line x1="114.30" y1="436.90" x2="123.80" y2="436.90" stroke="#333" stroke-width="0.9" />
<rect x="107.50" y="392.50" width="46.00" height="45.30" fill="none" stroke="#444" stroke-width="0.85"/>
<line x1="109.80" y1="438.55" x2="112.56" y2="438.55" stroke="#2a2a2a" stroke-width="0.9" />
<line x1="113.94" y1="438.55" x2="121.30" y2="438.55" stroke="#2a2a2a" stroke-width="0.9" />
<line x1="122.68" y1="438.55" x2="124.06" y2="438.55" stroke="#2a2a2a" stroke-width="0.9" />
<line x1="125.90" y1="438.55" x2="132.80" y2="438.55" stroke="#5a5a5a" stroke-width="0.9" />
<line x1="134.18" y1="438.55" x2="135.56" y2="438.55" stroke="#5a5a5a" stroke-width="0.9" />
<line x1="137.40" y1="438.55" x2="143.84" y2="438.55" stroke="#5a5a5a" stroke-width="0.9" />
<line x1="145.22" y1="438.55" x2="146.60" y2="438.55" stroke="#5a5a5a" stroke-width="0.9" />
<line x1="147.98" y1="438.55" x2="151.66" y2="438.55" stroke="#5a5a5a" stroke-width="0.9" />
<path d="M168.00 436.60 L169.20 432.44 L170.20 415.80 L171.30 395.00 L171.80 395.00 L172.90 415.80 L174.00 432.44 L175.30 436.60 Z" fill="#9a9a9a" stroke="#7e7e7e" stroke-width="0.5" stroke-linejoin="round"/>
<path d="M170.60 436.20 L171.10 435.68 L171.60 434.61 L172.10 433.01 L172.60 431.10 L173.10 429.36 L173.60 428.42 L174.10 428.54 L174.60 428.56 L175.10 429.16 L175.60 429.56 L176.10 430.00 L176.60 430.49 L177.10 430.46 L177.60 430.39 L178.10 430.40 L178.60 430.25 L179.10 429.99 L179.60 429.53 L180.10 429.61 L180.60 429.19 L181.10 429.28 L181.60 428.97 L182.10 429.02 L182.60 428.86 L183.10 428.57 L183.60 428.64 L184.10 428.48 L184.60 428.26 L185.10 428.37 L185.60 428.65 L186.10 429.31 L186.60 430.51 L187.10 431.53 L187.60 432.54 L188.10 433.59 L188.60 434.52 L189.10 435.18 L189.60 435.70 L190.10 436.05 L190.60 436.29" fill="none" stroke="#404040" stroke-width="0.7" stroke-linejoin="round"/>
<path d="M160.5 395.02h1.1M160.5 397.53h1.1M160.5 400.05h1.1M160.5 402.57h1.8M160.5 405.08h1.1M160.5 407.60h1.1M160.5 410.12h1.1M160.5 412.63h1.8M160.5 415.15h1.1M160.5 417.67h1.1M160.5 420.18h1.1M160.5 422.70h1.8M160.5 425.22h1.1M160.5 427.73h1.1M160.5 430.25h1.1M160.5 432.77h1.8M160.5 435.28h1.1M161.26 437.30v-0.9M162.42 437.30v-1.6M163.59 437.30v-0.9M164.75 437.30v-0.9M165.91 437.30v-0.9M167.07 437.30v-0.9M168.24 437.30v-0.9M169.40 437.30v-0.9M170.56 437.30v-0.9M171.72 437.30v-0.9M172.89 437.30v-1.6M174.05 437.30v-0.9M175.21 437.30v-0.9M176.38 437.30v-0.9M177.54 437.30v-0.9M178.70 437.30v-0.9M179.86 437.30v-0.9M181.03 437.30v-0.9M182.19 437.30v-0.9M183.35 437.30v-1.6M184.51 437.30v-0.9M185.67 437.30v-0.9M186.84 437.30v-0.9M188.00 437.30v-0.9M189.16 437.30v-0.9M190.32 437.30v-0.9M191.49 437.30v-0.9M192.65 437.30v-0.9M193.81 437.30v-1.6M194.97 437.30v-0.9M196.14 437.30v-0.9M197.30 437.30v-0.9M198.46 437.30v-0.9M199.62 437.30v-0.9M200.79 437.30v-0.9M201.95 437.30v-0.9M203.11 437.30v-0.9M204.27 437.30v-1.6M205.44 437.30v-0.9" stroke="#444" stroke-width="0.55" fill="none"/>
<line x1="167.00" y1="436.90" x2="176.50" y2="436.90" stroke="#333" stroke-width="0.9" />
<rect x="160.10" y="392.50" width="46.50" height="45.30" fill="none" stroke="#444" stroke-width="0.85"/>
<line x1="162.42" y1="438.55" x2="165.22" y2="438.55" stroke="#2a2a2a" stroke-width="0.9" />
<line x1="166.61" y1="438.55" x2="174.05" y2="438.55" stroke="#2a2a2a" stroke-width="0.9" />
<line x1="175.44" y1="438.55" x2="176.84" y2="438.55" stroke="#2a2a2a" stroke-width="0.9" />
<line x1="178.70" y1="438.55" x2="185.68" y2="438.55" stroke="#5a5a5a" stroke-width="0.9" />
<line x1="187.07" y1="438.55" x2="188.47" y2="438.55" stroke="#5a5a5a" stroke-width="0.9" />
<line x1="190.32" y1="438.55" x2="196.83" y2="438.55" stroke="#5a5a5a" stroke-width="0.9" />
<line x1="198.23" y1="438.55" x2="199.62" y2="438.55" stroke="#5a5a5a" stroke-width="0.9" />
<line x1="201.02" y1="438.55" x2="204.74" y2="438.55" stroke="#5a5a5a" stroke-width="0.9" />
<path d="M62.30 487.00 L63.50 482.80 L64.50 466.00 L65.60 445.00 L66.10 445.00 L67.20 466.00 L68.30 482.80 L69.60 487.00 Z" fill="#9a9a9a" stroke="#7e7e7e" stroke-width="0.5" stroke-linejoin="round"/>
<path d="M62.50 486.65 L63.00 486.43 L63.50 486.11 L64.00 485.67 L64.50 485.09 L65.00 484.39 L65.50 483.40 L66.00 482.36 L66.50 481.26 L67.00 480.12 L67.50 479.00 L68.00 477.99 L68.50 477.38 L69.00 477.11 L69.50 477.26 L70.00 477.58 L70.50 478.08 L71.00 478.63 L71.50 479.71 L72.00 480.67 L72.50 481.65 L73.00 482.66 L73.50 483.41 L74.00 484.32 L74.50 484.93 L75.00 485.46 L75.50 485.93 L76.00 486.24 L76.50 486.49 L77.00 486.67" fill="none" stroke="#404040" stroke-width="0.7" stroke-linejoin="round"/>
<path d="M54.9 445.23h1.1M54.9 447.76h1.1M54.9 450.28h1.1M54.9 452.81h1.8M54.9 455.34h1.1M54.9 457.87h1.1M54.9 460.39h1.1M54.9 462.92h1.8M54.9 465.45h1.1M54.9 467.98h1.1M54.9 470.51h1.1M54.9 473.03h1.8M54.9 475.56h1.1M54.9 478.09h1.1M54.9 480.62h1.1M54.9 483.14h1.8M54.9 485.67h1.1M55.66 487.70v-0.9M56.81 487.70v-1.6M57.97 487.70v-0.9M59.13 487.70v-0.9M60.29 487.70v-0.9M61.45 487.70v-0.9M62.60 487.70v-0.9M63.76 487.70v-0.9M64.92 487.70v-0.9M66.08 487.70v-0.9M67.23 487.70v-1.6M68.39 487.70v-0.9M69.55 487.70v-0.9M70.70 487.70v-0.9M71.86 487.70v-0.9M73.02 487.70v-0.9M74.18 487.70v-0.9M75.34 487.70v-0.9M76.49 487.70v-0.9M77.65 487.70v-1.6M78.81 487.70v-0.9M79.97 487.70v-0.9M81.12 487.70v-0.9M82.28 487.70v-0.9M83.44 487.70v-0.9M84.59 487.70v-0.9M85.75 487.70v-0.9M86.91 487.70v-0.9M88.07 487.70v-1.6M89.22 487.70v-0.9M90.38 487.70v-0.9M91.54 487.70v-0.9M92.70 487.70v-0.9M93.85 487.70v-0.9M95.01 487.70v-0.9M96.17 487.70v-0.9M97.33 487.70v-0.9M98.48 487.70v-1.6M99.64 487.70v-0.9" stroke="#444" stroke-width="0.55" fill="none"/>
<line x1="61.30" y1="487.30" x2="70.80" y2="487.30" stroke="#333" stroke-width="0.9" />
<rect x="54.50" y="442.70" width="46.30" height="45.50" fill="none" stroke="#444" stroke-width="0.85"/>
<line x1="56.81" y1="488.95" x2="59.59" y2="488.95" stroke="#2a2a2a" stroke-width="0.9" />
<line x1="60.98" y1="488.95" x2="68.39" y2="488.95" stroke="#2a2a2a" stroke-width="0.9" />
<line x1="69.78" y1="488.95" x2="71.17" y2="488.95" stroke="#2a2a2a" stroke-width="0.9" />
<line x1="73.02" y1="488.95" x2="79.97" y2="488.95" stroke="#5a5a5a" stroke-width="0.9" />
<line x1="81.35" y1="488.95" x2="82.74" y2="488.95" stroke="#5a5a5a" stroke-width="0.9" />
<line x1="84.59" y1="488.95" x2="91.08" y2="488.95" stroke="#5a5a5a" stroke-width="0.9" />
<line x1="92.47" y1="488.95" x2="93.85" y2="488.95" stroke="#5a5a5a" stroke-width="0.9" />
<line x1="95.24" y1="488.95" x2="98.95" y2="488.95" stroke="#5a5a5a" stroke-width="0.9" />
<path d="M114.70 487.00 L115.90 482.87 L116.90 466.35 L118.00 445.70 L118.50 445.70 L119.60 466.35 L120.70 482.87 L122.00 487.00 Z" fill="#9a9a9a" stroke="#7e7e7e" stroke-width="0.5" stroke-linejoin="round"/>
<path d="M115.00 486.59 L115.50 486.28 L116.00 485.79 L116.50 485.07 L117.00 484.03 L117.50 482.81 L118.00 481.28 L118.50 479.36 L119.00 477.69 L119.50 476.00 L120.00 474.64 L120.50 473.89 L121.00 473.81 L121.50 474.55 L122.00 475.03 L122.50 475.76 L123.00 476.92 L123.50 478.44 L124.00 479.73 L124.50 480.97 L125.00 482.19 L125.50 483.20 L126.00 484.06 L126.50 484.86 L127.00 485.46 L127.50 485.94 L128.00 486.27 L128.50 486.51 L129.00 486.69" fill="none" stroke="#404040" stroke-width="0.7" stroke-linejoin="round"/>
<path d="M107.9 445.23h1.1M107.9 447.76h1.1M107.9 450.28h1.1M107.9 452.81h1.8M107.9 455.34h1.1M107.9 457.87h1.1M107.9 460.39h1.1M107.9 462.92h1.8M107.9 465.45h1.1M107.9 467.98h1.1M107.9 470.51h1.1M107.9 473.03h1.8M107.9 475.56h1.1M107.9 478.09h1.1M107.9 480.62h1.1M107.9 483.14h1.8M107.9 485.67h1.1M108.65 487.70v-0.9M109.80 487.70v-1.6M110.95 487.70v-0.9M112.10 487.70v-0.9M113.25 487.70v-0.9M114.40 487.70v-0.9M115.55 487.70v-0.9M116.70 487.70v-0.9M117.85 487.70v-0.9M119.00 487.70v-0.9M120.15 487.70v-1.6M121.30 487.70v-0.9M122.45 487.70v-0.9M123.60 487.70v-0.9M124.75 487.70v-0.9M125.90 487.70v-0.9M127.05 487.70v-0.9M128.20 487.70v-0.9M129.35 487.70v-0.9M130.50 487.70v-1.6M131.65 487.70v-0.9M132.80 487.70v-0.9M133.95 487.70v-0.9M135.10 487.70v-0.9M136.25 487.70v-0.9M137.40 487.70v-0.9M138.55 487.70v-0.9M139.70 487.70v-0.9M140.85 487.70v-1.6M142.00 487.70v-0.9M143.15 487.70v-0.9M144.30 487.70v-0.9M145.45 487.70v-0.9M146.60 487.70v-0.9M147.75 487.70v-0.9M148.90 487.70v-0.9M150.05 487.70v-0.9M151.20 487.70v-1.6M152.35 487.70v-0.9" stroke="#444" stroke-width="0.55" fill="none"/>
<line x1="113.70" y1="487.30" x2="123.20" y2="487.30" stroke="#333" stroke-width="0.9" />
<rect x="107.50" y="442.70" width="46.00" height="45.50" fill="none" stroke="#444" stroke-width="0.85"/>
<line x1="109.80" y1="488.95" x2="112.56" y2="488.95" stroke="#2a2a2a" stroke-width="0.9" />
<line x1="113.94" y1="488.95" x2="121.30" y2="488.95" stroke="#2a2a2a" stroke-width="0.9" />
<line x1="122.68" y1="488.95" x2="124.06" y2="488.95" stroke="#2a2a2a" stroke-width="0.9" />
<line x1="125.90" y1="488.95" x2="132.80" y2="488.95" stroke="#5a5a5a" stroke-width="0.9" />
<line x1="134.18" y1="488.95" x2="135.56" y2="488.95" stroke="#5a5a5a" stroke-width="0.9" />
<line x1="137.40" y1="488.95" x2="143.84" y2="488.95" stroke="#5a5a5a" stroke-width="0.9" />
<line x1="145.22" y1="488.95" x2="146.60" y2="488.95" stroke="#5a5a5a" stroke-width="0.9" />
<line x1="147.98" y1="488.95" x2="151.66" y2="488.95" stroke="#5a5a5a" stroke-width="0.9" />
<path d="M168.00 487.00 L169.20 482.90 L170.20 466.50 L171.30 446.00 L171.80 446.00 L172.90 466.50 L174.00 482.90 L175.30 487.00 Z" fill="#9a9a9a" stroke="#7e7e7e" stroke-width="0.5" stroke-linejoin="round"/>
<path d="M164.10 486.65 L164.60 486.42 L165.10 486.07 L165.60 485.61 L166.10 484.97 L166.60 484.14 L167.10 483.12 L167.60 482.18 L168.10 480.89 L168.60 479.88 L169.10 479.06 L169.60 478.27 L170.10 477.97 L170.60 477.96 L171.10 477.94 L171.60 478.49 L172.10 478.85 L172.60 479.08 L173.10 478.90 L173.60 478.67 L174.10 478.54 L174.60 478.04 L175.10 478.06 L175.60 478.36 L176.10 478.84 L176.60 479.81 L177.10 480.74 L177.60 481.56 L178.10 482.40 L178.60 482.86 L179.10 483.02 L179.60 482.87 L180.10 482.62 L180.60 482.28 L181.10 482.11 L181.60 482.14 L182.10 482.18 L182.60 482.54 L183.10 482.98 L183.60 483.55 L184.10 484.24 L184.60 484.82 L185.10 485.36 L185.60 485.78 L186.10 486.18 L186.60 486.46 L187.10 486.65" fill="none" stroke="#404040" stroke-width="0.7" stroke-linejoin="round"/>
<path d="M160.5 445.23h1.1M160.5 447.76h1.1M160.5 450.28h1.1M160.5 452.81h1.8M160.5 455.34h1.1M160.5 457.87h1.1M160.5 460.39h1.1M160.5 462.92h1.8M160.5 465.45h1.1M160.5 467.98h1.1M160.5 470.51h1.1M160.5 473.03h1.8M160.5 475.56h1.1M160.5 478.09h1.1M160.5 480.62h1.1M160.5 483.14h1.8M160.5 485.67h1.1M161.26 487.70v-0.9M162.42 487.70v-1.6M163.59 487.70v-0.9M164.75 487.70v-0.9M165.91 487.70v-0.9M167.07 487.70v-0.9M168.24 487.70v-0.9M169.40 487.70v-0.9M170.56 487.70v-0.9M171.72 487.70v-0.9M172.89 487.70v-1.6M174.05 487.70v-0.9M175.21 487.70v-0.9M176.38 487.70v-0.9M177.54 487.70v-0.9M178.70 487.70v-0.9M179.86 487.70v-0.9M181.03 487.70v-0.9M182.19 487.70v-0.9M183.35 487.70v-1.6M184.51 487.70v-0.9M185.67 487.70v-0.9M186.84 487.70v-0.9M188.00 487.70v-0.9M189.16 487.70v-0.9M190.32 487.70v-0.9M191.49 487.70v-0.9M192.65 487.70v-0.9M193.81 487.70v-1.6M194.97 487.70v-0.9M196.14 487.70v-0.9M197.30 487.70v-0.9M198.46 487.70v-0.9M199.62 487.70v-0.9M200.79 487.70v-0.9M201.95 487.70v-0.9M203.11 487.70v-0.9M204.27 487.70v-1.6M205.44 487.70v-0.9" stroke="#444" stroke-width="0.55" fill="none"/>
<line x1="167.00" y1="487.30" x2="176.50" y2="487.30" stroke="#333" stroke-width="0.9" />
<rect x="160.10" y="442.70" width="46.50" height="45.50" fill="none" stroke="#444" stroke-width="0.85"/>
<line x1="162.42" y1="488.95" x2="165.22" y2="488.95" stroke="#2a2a2a" stroke-width="0.9" />
<line x1="166.61" y1="488.95" x2="174.05" y2="488.95" stroke="#2a2a2a" stroke-width="0.9" />
<line x1="175.44" y1="488.95" x2="176.84" y2="488.95" stroke="#2a2a2a" stroke-width="0.9" />
<line x1="178.70" y1="488.95" x2="185.68" y2="488.95" stroke="#5a5a5a" stroke-width="0.9" />
<line x1="187.07" y1="488.95" x2="188.47" y2="488.95" stroke="#5a5a5a" stroke-width="0.9" />
<line x1="190.32" y1="488.95" x2="196.83" y2="488.95" stroke="#5a5a5a" stroke-width="0.9" />
<line x1="198.23" y1="488.95" x2="199.62" y2="488.95" stroke="#5a5a5a" stroke-width="0.9" />
<line x1="201.02" y1="488.95" x2="204.74" y2="488.95" stroke="#5a5a5a" stroke-width="0.9" />
<line x1="56.60" y1="493.80" x2="204.00" y2="493.80" stroke="#222" stroke-width="1.0" />
<path d="M208.3 493.8 L202.7 491.3 L202.7 496.3 Z" fill="#111"/>
<text x="181.20" y="505.40" font-size="10.3" textLength="20.2" lengthAdjust="spacingAndGlyphs" fill="#111" stroke="#111" stroke-width="0.22" >FcμR</text>
<line x1="260.50" y1="32.30" x2="323.80" y2="32.30" stroke="#222" stroke-width="1.0" />
<line x1="329.70" y1="32.30" x2="393.20" y2="32.30" stroke="#222" stroke-width="1.0" />
<text x="291.70" y="27.60" font-size="7.6" text-anchor="middle" fill="#111" stroke="#111" stroke-width="0.22" >6B10</text>
<text x="360.80" y="27.60" font-size="7.6" text-anchor="middle" fill="#111" stroke="#111" stroke-width="0.22" >HM14</text>
<text x="402.60" y="31.60" font-size="8.0" textLength="44.2" lengthAdjust="spacingAndGlyphs" fill="#111" stroke="#111" stroke-width="0.22" >staining mAb</text>
<text x="403.00" y="157.40" font-size="8.0" textLength="53.2" lengthAdjust="spacingAndGlyphs" fill="#111" stroke="#111" stroke-width="0.22" >competitor mAb</text>
<line x1="257.10" y1="36.00" x2="257.10" y2="132.00" stroke="#111" stroke-width="1.15" />
<line x1="253.60" y1="131.50" x2="399.60" y2="131.50" stroke="#111" stroke-width="1.1" />
<line x1="253.60" y1="131.50" x2="257.10" y2="131.50" stroke="#111" stroke-width="1.0" />
<text x="251.00" y="134.40" font-size="8.1" text-anchor="end" fill="#111" stroke="#111" stroke-width="0.22" >0</text>
<line x1="253.60" y1="112.85" x2="257.10" y2="112.85" stroke="#111" stroke-width="1.0" />
<text x="251.00" y="115.75" font-size="8.1" text-anchor="end" fill="#111" stroke="#111" stroke-width="0.22" >20</text>
<line x1="253.60" y1="94.20" x2="257.10" y2="94.20" stroke="#111" stroke-width="1.0" />
<text x="251.00" y="97.10" font-size="8.1" text-anchor="end" fill="#111" stroke="#111" stroke-width="0.22" >40</text>
<line x1="253.60" y1="75.55" x2="257.10" y2="75.55" stroke="#111" stroke-width="1.0" />
<text x="251.00" y="78.45" font-size="8.1" text-anchor="end" fill="#111" stroke="#111" stroke-width="0.22" >60</text>
<line x1="253.60" y1="56.90" x2="257.10" y2="56.90" stroke="#111" stroke-width="1.0" />
<text x="251.00" y="59.80" font-size="8.1" text-anchor="end" fill="#111" stroke="#111" stroke-width="0.22" >80</text>
<line x1="253.60" y1="38.25" x2="257.10" y2="38.25" stroke="#111" stroke-width="1.0" />
<text x="251.00" y="41.15" font-size="8.1" text-anchor="end" fill="#111" stroke="#111" stroke-width="0.22" >100</text>
<text x="231.80" y="115.50" font-size="9.7" textLength="63.5" lengthAdjust="spacingAndGlyphs" transform="rotate(-90 231.80 115.50)" fill="#111" stroke="#111" stroke-width="0.22" >Competition [%]</text>
<rect x="259.90" y="126.84" width="5.80" height="4.66" fill="#0a0a0a"/>
<line x1="262.80" y1="131.50" x2="262.80" y2="134.70" stroke="#111" stroke-width="0.9" />
<text x="265.60" y="137.50" font-size="7.6" text-anchor="end" transform="rotate(-90 265.60 137.50)" fill="#111" stroke="#111" stroke-width="0.22" >FAIM3 1E4</text>
<rect x="271.47" y="124.51" width="5.80" height="6.99" fill="#7f7f7f"/>
<line x1="274.37" y1="131.50" x2="274.37" y2="134.70" stroke="#111" stroke-width="0.9" />
<text x="277.17" y="137.50" font-size="7.6" text-anchor="end" transform="rotate(-90 277.17 137.50)" fill="#111" stroke="#111" stroke-width="0.22" >isotype</text>
<line x1="285.94" y1="131.50" x2="285.94" y2="134.70" stroke="#111" stroke-width="0.9" />
<text x="288.74" y="137.50" font-size="7.6" text-anchor="end" transform="rotate(-90 288.74 137.50)" fill="#111" stroke="#111" stroke-width="0.22" >FAIM3</text>
<rect x="294.61" y="124.51" width="5.80" height="6.99" fill="#7f7f7f"/>
<line x1="297.51" y1="131.50" x2="297.51" y2="134.70" stroke="#111" stroke-width="0.9" />
<text x="300.31" y="137.50" font-size="7.6" text-anchor="end" transform="rotate(-90 300.31 137.50)" fill="#111" stroke="#111" stroke-width="0.22" >isotype</text>
<rect x="306.18" y="52.70" width="5.80" height="78.80" fill="#0a0a0a"/>
<line x1="309.08" y1="131.50" x2="309.08" y2="134.70" stroke="#111" stroke-width="0.9" />
<text x="311.88" y="137.50" font-size="7.6" text-anchor="end" transform="rotate(-90 311.88 137.50)" fill="#111" stroke="#111" stroke-width="0.22" >6B10</text>
<line x1="320.65" y1="131.50" x2="320.65" y2="134.70" stroke="#111" stroke-width="0.9" />
<text x="323.45" y="137.50" font-size="7.6" text-anchor="end" transform="rotate(-90 323.45 137.50)" fill="#111" stroke="#111" stroke-width="0.22" >isotype</text>
<line x1="332.22" y1="131.50" x2="332.22" y2="134.70" stroke="#111" stroke-width="0.9" />
<text x="335.02" y="137.50" font-size="7.6" text-anchor="end" transform="rotate(-90 335.02 137.50)" fill="#111" stroke="#111" stroke-width="0.22" >6B10</text>
<rect x="340.89" y="129.82" width="5.80" height="1.68" fill="#7f7f7f"/>
<line x1="343.79" y1="131.50" x2="343.79" y2="134.70" stroke="#111" stroke-width="0.9" />
<text x="346.59" y="137.50" font-size="7.6" text-anchor="end" transform="rotate(-90 346.59 137.50)" fill="#111" stroke="#111" stroke-width="0.22" >isotype</text>
<rect x="352.46" y="69.68" width="5.80" height="61.82" fill="#0a0a0a"/>
<line x1="355.36" y1="131.50" x2="355.36" y2="134.70" stroke="#111" stroke-width="0.9" />
<text x="358.16" y="137.50" font-size="7.6" text-anchor="end" transform="rotate(-90 358.16 137.50)" fill="#111" stroke="#111" stroke-width="0.22" >FAIM3 1E4</text>
<rect x="364.03" y="127.77" width="5.80" height="3.73" fill="#7f7f7f"/>
<line x1="366.93" y1="131.50" x2="366.93" y2="134.70" stroke="#111" stroke-width="0.9" />
<text x="369.73" y="137.50" font-size="7.6" text-anchor="end" transform="rotate(-90 369.73 137.50)" fill="#111" stroke="#111" stroke-width="0.22" >isotype</text>
<rect x="375.60" y="80.12" width="5.80" height="51.38" fill="#0a0a0a"/>
<line x1="378.50" y1="131.50" x2="378.50" y2="134.70" stroke="#111" stroke-width="0.9" />
<text x="381.30" y="137.50" font-size="7.6" text-anchor="end" transform="rotate(-90 381.30 137.50)" fill="#111" stroke="#111" stroke-width="0.22" >FAIM3</text>
<rect x="387.17" y="127.77" width="5.80" height="3.73" fill="#7f7f7f"/>
<line x1="390.07" y1="131.50" x2="390.07" y2="134.70" stroke="#111" stroke-width="0.9" />
<text x="392.87" y="137.50" font-size="7.6" text-anchor="end" transform="rotate(-90 392.87 137.50)" fill="#111" stroke="#111" stroke-width="0.22" >isotype</text>
<line x1="257.20" y1="131.50" x2="257.20" y2="179.30" stroke="#222" stroke-width="0.9" />
<line x1="280.30" y1="131.50" x2="280.30" y2="179.30" stroke="#222" stroke-width="0.9" />
<line x1="303.50" y1="131.50" x2="303.50" y2="179.30" stroke="#222" stroke-width="0.9" />
<line x1="326.70" y1="131.50" x2="326.70" y2="179.30" stroke="#222" stroke-width="0.9" />
<line x1="349.80" y1="131.50" x2="349.80" y2="179.30" stroke="#222" stroke-width="0.9" />
<line x1="372.80" y1="131.50" x2="372.80" y2="179.30" stroke="#222" stroke-width="0.9" />
<line x1="396.30" y1="131.50" x2="396.30" y2="179.30" stroke="#222" stroke-width="0.9" />
<line x1="256.80" y1="179.30" x2="396.80" y2="179.30" stroke="#222" stroke-width="0.9" />
<line x1="261.70" y1="212.20" x2="261.70" y2="284.00" stroke="#111" stroke-width="1.15" />
<line x1="258.30" y1="283.50" x2="364.30" y2="283.50" stroke="#111" stroke-width="1.15" />
<line x1="258.30" y1="283.50" x2="261.70" y2="283.50" stroke="#111" stroke-width="1.0" />
<text x="255.20" y="286.25" font-size="7.8" text-anchor="end" fill="#111" stroke="#111" stroke-width="0.22" >0</text>
<line x1="258.30" y1="269.76" x2="261.70" y2="269.76" stroke="#111" stroke-width="1.0" />
<text x="255.20" y="272.51" font-size="7.8" text-anchor="end" fill="#111" stroke="#111" stroke-width="0.22" >200</text>
<line x1="258.30" y1="256.02" x2="261.70" y2="256.02" stroke="#111" stroke-width="1.0" />
<text x="255.20" y="258.77" font-size="7.8" text-anchor="end" fill="#111" stroke="#111" stroke-width="0.22" >400</text>
<line x1="258.30" y1="242.28" x2="261.70" y2="242.28" stroke="#111" stroke-width="1.0" />
<text x="255.20" y="245.03" font-size="7.8" text-anchor="end" fill="#111" stroke="#111" stroke-width="0.22" >600</text>
<line x1="258.30" y1="228.54" x2="261.70" y2="228.54" stroke="#111" stroke-width="1.0" />
<text x="255.20" y="231.29" font-size="7.8" text-anchor="end" fill="#111" stroke="#111" stroke-width="0.22" >800</text>
<line x1="258.30" y1="214.80" x2="261.70" y2="214.80" stroke="#111" stroke-width="1.0" />
<text x="255.20" y="217.55" font-size="7.8" text-anchor="end" fill="#111" stroke="#111" stroke-width="0.22" >1000</text>
<text x="230.90" y="257.15" font-size="8.6" textLength="18.4" lengthAdjust="spacingAndGlyphs" transform="rotate(-90 230.90 257.15)" fill="#111" stroke="#111" stroke-width="0.22" >M F I</text>
<rect x="267.40" y="243.31" width="11.85" height="40.19" fill="#0a0a0a"/>
<rect x="279.25" y="272.85" width="11.85" height="10.65" fill="#7f7f7f"/>
<line x1="273.32" y1="243.31" x2="273.32" y2="224.21" stroke="#0a0a0a" stroke-width="1.1" />
<line x1="270.32" y1="224.21" x2="276.32" y2="224.21" stroke="#0a0a0a" stroke-width="1.1" />
<line x1="273.32" y1="283.50" x2="273.32" y2="286.90" stroke="#111" stroke-width="1.0" />
<line x1="285.17" y1="272.85" x2="285.17" y2="269.76" stroke="#1c1c1c" stroke-width="1.1" />
<line x1="282.17" y1="269.76" x2="288.17" y2="269.76" stroke="#1c1c1c" stroke-width="1.1" />
<line x1="285.17" y1="283.50" x2="285.17" y2="286.90" stroke="#111" stroke-width="1.0" />
<text x="282.65" y="292.10" font-size="8.4" text-anchor="end" transform="rotate(-45 282.65 292.10)" fill="#111" stroke="#111" stroke-width="0.3">CD19<tspan dy="-3" font-size="6">+</tspan><tspan dy="3"> CD5</tspan><tspan dy="-3" font-size="6">-</tspan></text>
<rect x="301.40" y="269.90" width="11.85" height="13.60" fill="#0a0a0a"/>
<rect x="313.25" y="274.23" width="11.85" height="9.27" fill="#7f7f7f"/>
<line x1="307.32" y1="269.90" x2="307.32" y2="269.35" stroke="#0a0a0a" stroke-width="1.1" />
<line x1="304.32" y1="269.35" x2="310.32" y2="269.35" stroke="#0a0a0a" stroke-width="1.1" />
<line x1="307.32" y1="283.50" x2="307.32" y2="286.90" stroke="#111" stroke-width="1.0" />
<line x1="319.17" y1="274.23" x2="319.17" y2="273.81" stroke="#1c1c1c" stroke-width="1.1" />
<line x1="316.17" y1="273.81" x2="322.17" y2="273.81" stroke="#1c1c1c" stroke-width="1.1" />
<line x1="319.17" y1="283.50" x2="319.17" y2="286.90" stroke="#111" stroke-width="1.0" />
<text x="316.65" y="292.10" font-size="8.4" text-anchor="end" transform="rotate(-45 316.65 292.10)" fill="#111" stroke="#111" stroke-width="0.3">CD19<tspan dy="-3" font-size="6">-</tspan><tspan dy="3">CD5</tspan><tspan dy="-3" font-size="6">+</tspan></text>
<rect x="335.50" y="270.45" width="11.85" height="13.05" fill="#0a0a0a"/>
<rect x="347.35" y="274.23" width="11.85" height="9.27" fill="#7f7f7f"/>
<line x1="341.43" y1="270.45" x2="341.43" y2="268.04" stroke="#0a0a0a" stroke-width="1.1" />
<line x1="338.43" y1="268.04" x2="344.43" y2="268.04" stroke="#0a0a0a" stroke-width="1.1" />
<line x1="341.43" y1="283.50" x2="341.43" y2="286.90" stroke="#111" stroke-width="1.0" />
<line x1="353.27" y1="274.23" x2="353.27" y2="272.85" stroke="#1c1c1c" stroke-width="1.1" />
<line x1="350.27" y1="272.85" x2="356.27" y2="272.85" stroke="#1c1c1c" stroke-width="1.1" />
<line x1="353.27" y1="283.50" x2="353.27" y2="286.90" stroke="#111" stroke-width="1.0" />
<text x="350.75" y="292.10" font-size="8.4" text-anchor="end" transform="rotate(-45 350.75 292.10)" fill="#111" stroke="#111" stroke-width="0.3">CD19<tspan dy="-3" font-size="6">-</tspan><tspan dy="3">CD5</tspan><tspan dy="-3" font-size="6">-</tspan></text>
<rect x="304.20" y="211.90" width="5.80" height="5.70" fill="#0a0a0a"/>
<rect x="304.20" y="221.70" width="5.80" height="5.70" fill="#7f7f7f"/>
<text x="313.30" y="217.60" font-size="8.3" textLength="17.7" lengthAdjust="spacingAndGlyphs" fill="#111" stroke="#111" stroke-width="0.22" >6B10</text>
<text x="313.20" y="227.30" font-size="8.3" textLength="23.6" lengthAdjust="spacingAndGlyphs" fill="#111" stroke="#111" stroke-width="0.22" >isotype</text>
<path d="M273.32 221.50 V217.90 H285.17 V221.50" fill="none" stroke="#111" stroke-width="0.9"/>
<text x="279.70" y="216.60" font-size="7.4" text-anchor="middle" font-weight="bold" fill="#111" stroke="#111" stroke-width="0.2" letter-spacing="0.9">*</text>
<path d="M307.32 265.80 V262.20 H319.17 V265.80" fill="none" stroke="#111" stroke-width="0.9"/>
<text x="313.70" y="260.90" font-size="7.4" text-anchor="middle" font-weight="bold" fill="#111" stroke="#111" stroke-width="0.2" letter-spacing="0.9">***</text>
<path d="M341.43 265.80 V262.20 H353.27 V265.80" fill="none" stroke="#111" stroke-width="0.9"/>
<text x="347.80" y="260.90" font-size="7.4" text-anchor="middle" font-weight="bold" fill="#111" stroke="#111" stroke-width="0.2" letter-spacing="0.9">*</text>
<line x1="411.50" y1="213.40" x2="411.50" y2="284.00" stroke="#111" stroke-width="1.15" />
<line x1="408.10" y1="283.50" x2="513.80" y2="283.50" stroke="#111" stroke-width="1.15" />
<line x1="408.10" y1="283.50" x2="411.50" y2="283.50" stroke="#111" stroke-width="1.0" />
<text x="405.00" y="286.25" font-size="7.8" text-anchor="end" fill="#111" stroke="#111" stroke-width="0.22" >0</text>
<line x1="408.10" y1="270.00" x2="411.50" y2="270.00" stroke="#111" stroke-width="1.0" />
<text x="405.00" y="272.75" font-size="7.8" text-anchor="end" fill="#111" stroke="#111" stroke-width="0.22" >500</text>
<line x1="408.10" y1="256.50" x2="411.50" y2="256.50" stroke="#111" stroke-width="1.0" />
<text x="405.00" y="259.25" font-size="7.8" text-anchor="end" fill="#111" stroke="#111" stroke-width="0.22" >1000</text>
<line x1="408.10" y1="243.00" x2="411.50" y2="243.00" stroke="#111" stroke-width="1.0" />
<text x="405.00" y="245.75" font-size="7.8" text-anchor="end" fill="#111" stroke="#111" stroke-width="0.22" >1500</text>
<line x1="408.10" y1="229.50" x2="411.50" y2="229.50" stroke="#111" stroke-width="1.0" />
<text x="405.00" y="232.25" font-size="7.8" text-anchor="end" fill="#111" stroke="#111" stroke-width="0.22" >2000</text>
<line x1="408.10" y1="216.00" x2="411.50" y2="216.00" stroke="#111" stroke-width="1.0" />
<text x="405.00" y="218.75" font-size="7.8" text-anchor="end" fill="#111" stroke="#111" stroke-width="0.22" >2500</text>
<text x="380.70" y="257.75" font-size="8.6" textLength="18.4" lengthAdjust="spacingAndGlyphs" transform="rotate(-90 380.70 257.75)" fill="#111" stroke="#111" stroke-width="0.22" >M F I</text>
<rect x="417.20" y="248.94" width="11.85" height="34.56" fill="#0a0a0a"/>
<rect x="429.05" y="278.37" width="11.85" height="5.13" fill="#7f7f7f"/>
<line x1="423.12" y1="248.94" x2="423.12" y2="228.96" stroke="#0a0a0a" stroke-width="1.1" />
<line x1="420.12" y1="228.96" x2="426.12" y2="228.96" stroke="#0a0a0a" stroke-width="1.1" />
<line x1="423.12" y1="283.50" x2="423.12" y2="286.90" stroke="#111" stroke-width="1.0" />
<line x1="434.97" y1="278.37" x2="434.97" y2="277.69" stroke="#1c1c1c" stroke-width="1.1" />
<line x1="431.97" y1="277.69" x2="437.97" y2="277.69" stroke="#1c1c1c" stroke-width="1.1" />
<line x1="434.97" y1="283.50" x2="434.97" y2="286.90" stroke="#111" stroke-width="1.0" />
<text x="432.45" y="292.10" font-size="8.4" text-anchor="end" transform="rotate(-45 432.45 292.10)" fill="#111" stroke="#111" stroke-width="0.3">CD19<tspan dy="-3" font-size="6">+</tspan><tspan dy="3"> CD5</tspan><tspan dy="-3" font-size="6">-</tspan></text>
<rect x="451.20" y="276.07" width="11.85" height="7.42" fill="#0a0a0a"/>
<rect x="463.05" y="279.99" width="11.85" height="3.51" fill="#7f7f7f"/>
<line x1="457.12" y1="276.07" x2="457.12" y2="273.51" stroke="#0a0a0a" stroke-width="1.1" />
<line x1="454.12" y1="273.51" x2="460.12" y2="273.51" stroke="#0a0a0a" stroke-width="1.1" />
<line x1="457.12" y1="283.50" x2="457.12" y2="286.90" stroke="#111" stroke-width="1.0" />
<line x1="468.97" y1="279.99" x2="468.97" y2="279.31" stroke="#1c1c1c" stroke-width="1.1" />
<line x1="465.97" y1="279.31" x2="471.97" y2="279.31" stroke="#1c1c1c" stroke-width="1.1" />
<line x1="468.97" y1="283.50" x2="468.97" y2="286.90" stroke="#111" stroke-width="1.0" />
<text x="466.45" y="292.10" font-size="8.4" text-anchor="end" transform="rotate(-45 466.45 292.10)" fill="#111" stroke="#111" stroke-width="0.3">CD19<tspan dy="-3" font-size="6">-</tspan><tspan dy="3">CD5</tspan><tspan dy="-3" font-size="6">+</tspan></text>
<rect x="485.40" y="278.37" width="11.85" height="5.13" fill="#0a0a0a"/>
<rect x="497.25" y="281.48" width="11.85" height="2.02" fill="#7f7f7f"/>
<line x1="491.32" y1="278.37" x2="491.32" y2="277.15" stroke="#0a0a0a" stroke-width="1.1" />
<line x1="488.32" y1="277.15" x2="494.32" y2="277.15" stroke="#0a0a0a" stroke-width="1.1" />
<line x1="491.32" y1="283.50" x2="491.32" y2="286.90" stroke="#111" stroke-width="1.0" />
<line x1="503.17" y1="281.48" x2="503.17" y2="280.80" stroke="#1c1c1c" stroke-width="1.1" />
<line x1="500.17" y1="280.80" x2="506.17" y2="280.80" stroke="#1c1c1c" stroke-width="1.1" />
<line x1="503.17" y1="283.50" x2="503.17" y2="286.90" stroke="#111" stroke-width="1.0" />
<text x="500.65" y="292.10" font-size="8.4" text-anchor="end" transform="rotate(-45 500.65 292.10)" fill="#111" stroke="#111" stroke-width="0.3">CD19<tspan dy="-3" font-size="6">-</tspan><tspan dy="3">CD5</tspan><tspan dy="-3" font-size="6">-</tspan></text>
<rect x="464.20" y="213.00" width="5.80" height="5.70" fill="#0a0a0a"/>
<rect x="464.20" y="222.80" width="5.80" height="5.70" fill="#7f7f7f"/>
<text x="473.30" y="218.70" font-size="8.3" textLength="21.7" lengthAdjust="spacingAndGlyphs" fill="#111" stroke="#111" stroke-width="0.22" >FAIM3</text>
<text x="473.20" y="228.40" font-size="8.3" textLength="23.6" lengthAdjust="spacingAndGlyphs" fill="#111" stroke="#111" stroke-width="0.22" >isotype</text>
<path d="M423.12 226.10 V222.50 H434.97 V226.10" fill="none" stroke="#111" stroke-width="0.9"/>
<text x="429.50" y="221.20" font-size="7.4" text-anchor="middle" font-weight="bold" fill="#111" stroke="#111" stroke-width="0.2" letter-spacing="0.9">*</text>
<path d="M457.12 270.60 V267.00 H468.97 V270.60" fill="none" stroke="#111" stroke-width="0.9"/>
<text x="463.50" y="265.70" font-size="7.4" text-anchor="middle" font-weight="bold" fill="#111" stroke="#111" stroke-width="0.2" letter-spacing="0.9">**</text>
<path d="M491.32 270.60 V267.00 H503.17 V270.60" fill="none" stroke="#111" stroke-width="0.9"/>
<text x="497.70" y="265.70" font-size="7.4" text-anchor="middle" font-weight="bold" fill="#111" stroke="#111" stroke-width="0.2" letter-spacing="0.9">***</text>
<line x1="261.70" y1="351.70" x2="261.70" y2="424.80" stroke="#111" stroke-width="1.15" />
<line x1="258.30" y1="424.30" x2="364.30" y2="424.30" stroke="#111" stroke-width="1.15" />
<line x1="258.30" y1="424.30" x2="261.70" y2="424.30" stroke="#111" stroke-width="1.0" />
<text x="255.20" y="427.05" font-size="7.8" text-anchor="end" fill="#111" stroke="#111" stroke-width="0.22" >0</text>
<line x1="258.30" y1="410.30" x2="261.70" y2="410.30" stroke="#111" stroke-width="1.0" />
<text x="255.20" y="413.05" font-size="7.8" text-anchor="end" fill="#111" stroke="#111" stroke-width="0.22" >1000</text>
<line x1="258.30" y1="396.30" x2="261.70" y2="396.30" stroke="#111" stroke-width="1.0" />
<text x="255.20" y="399.05" font-size="7.8" text-anchor="end" fill="#111" stroke="#111" stroke-width="0.22" >2000</text>
<line x1="258.30" y1="382.30" x2="261.70" y2="382.30" stroke="#111" stroke-width="1.0" />
<text x="255.20" y="385.05" font-size="7.8" text-anchor="end" fill="#111" stroke="#111" stroke-width="0.22" >3000</text>
<line x1="258.30" y1="368.30" x2="261.70" y2="368.30" stroke="#111" stroke-width="1.0" />
<text x="255.20" y="371.05" font-size="7.8" text-anchor="end" fill="#111" stroke="#111" stroke-width="0.22" >4000</text>
<line x1="258.30" y1="354.30" x2="261.70" y2="354.30" stroke="#111" stroke-width="1.0" />
<text x="255.20" y="357.05" font-size="7.8" text-anchor="end" fill="#111" stroke="#111" stroke-width="0.22" >5000</text>
<text x="230.90" y="397.30" font-size="8.6" textLength="18.4" lengthAdjust="spacingAndGlyphs" transform="rotate(-90 230.90 397.30)" fill="#111" stroke="#111" stroke-width="0.22" >M F I</text>
<rect x="267.40" y="380.20" width="11.85" height="44.10" fill="#0a0a0a"/>
<rect x="279.25" y="421.78" width="11.85" height="2.52" fill="#7f7f7f"/>
<line x1="273.32" y1="380.20" x2="273.32" y2="365.50" stroke="#0a0a0a" stroke-width="1.1" />
<line x1="270.32" y1="365.50" x2="276.32" y2="365.50" stroke="#0a0a0a" stroke-width="1.1" />
<line x1="285.17" y1="421.78" x2="285.17" y2="421.22" stroke="#1c1c1c" stroke-width="1.1" />
<line x1="282.17" y1="421.22" x2="288.17" y2="421.22" stroke="#1c1c1c" stroke-width="1.1" />
<line x1="278.95" y1="424.30" x2="278.95" y2="427.70" stroke="#111" stroke-width="1.0" />
<text x="282.65" y="432.90" font-size="8.4" text-anchor="end" transform="rotate(-45 282.65 432.90)" fill="#111" stroke="#111" stroke-width="0.3">CD19<tspan dy="-3" font-size="6">+</tspan><tspan dy="3"> CD5</tspan><tspan dy="-3" font-size="6">-</tspan></text>
<rect x="301.30" y="419.68" width="11.85" height="4.62" fill="#0a0a0a"/>
<rect x="313.15" y="422.76" width="11.85" height="1.54" fill="#7f7f7f"/>
<line x1="307.23" y1="419.68" x2="307.23" y2="419.12" stroke="#0a0a0a" stroke-width="1.1" />
<line x1="304.23" y1="419.12" x2="310.23" y2="419.12" stroke="#0a0a0a" stroke-width="1.1" />
<line x1="319.07" y1="422.76" x2="319.07" y2="422.34" stroke="#1c1c1c" stroke-width="1.1" />
<line x1="316.07" y1="422.34" x2="322.07" y2="422.34" stroke="#1c1c1c" stroke-width="1.1" />
<line x1="312.85" y1="424.30" x2="312.85" y2="427.70" stroke="#111" stroke-width="1.0" />
<text x="316.55" y="432.90" font-size="8.4" text-anchor="end" transform="rotate(-45 316.55 432.90)" fill="#111" stroke="#111" stroke-width="0.3">CD19<tspan dy="-3" font-size="6">-</tspan><tspan dy="3">CD5</tspan><tspan dy="-3" font-size="6">+</tspan></text>
<rect x="335.40" y="419.12" width="11.85" height="5.18" fill="#0a0a0a"/>
<rect x="347.25" y="423.32" width="11.85" height="0.98" fill="#7f7f7f"/>
<line x1="341.32" y1="419.12" x2="341.32" y2="417.02" stroke="#0a0a0a" stroke-width="1.1" />
<line x1="338.32" y1="417.02" x2="344.32" y2="417.02" stroke="#0a0a0a" stroke-width="1.1" />
<line x1="353.17" y1="423.32" x2="353.17" y2="422.90" stroke="#1c1c1c" stroke-width="1.1" />
<line x1="350.17" y1="422.90" x2="356.17" y2="422.90" stroke="#1c1c1c" stroke-width="1.1" />
<line x1="346.95" y1="424.30" x2="346.95" y2="427.70" stroke="#111" stroke-width="1.0" />
<text x="350.65" y="432.90" font-size="8.4" text-anchor="end" transform="rotate(-45 350.65 432.90)" fill="#111" stroke="#111" stroke-width="0.3">CD19<tspan dy="-3" font-size="6">-</tspan><tspan dy="3">CD5</tspan><tspan dy="-3" font-size="6">-</tspan></text>
<rect x="304.20" y="351.90" width="5.80" height="5.70" fill="#0a0a0a"/>
<rect x="304.20" y="361.70" width="5.80" height="5.70" fill="#7f7f7f"/>
<text x="313.30" y="357.60" font-size="8.3" textLength="36.9" lengthAdjust="spacingAndGlyphs" fill="#111" stroke="#111" stroke-width="0.22" >FAIM3 1E4</text>
<text x="313.20" y="367.30" font-size="8.3" textLength="23.6" lengthAdjust="spacingAndGlyphs" fill="#111" stroke="#111" stroke-width="0.22" >isotype</text>
<path d="M273.32 361.10 V357.50 H285.17 V361.10" fill="none" stroke="#111" stroke-width="0.9"/>
<text x="279.70" y="356.20" font-size="7.4" text-anchor="middle" font-weight="bold" fill="#111" stroke="#111" stroke-width="0.2" letter-spacing="0.9">**</text>
<path d="M307.23 413.70 V410.10 H319.07 V413.70" fill="none" stroke="#111" stroke-width="0.9"/>
<text x="313.60" y="408.80" font-size="7.4" text-anchor="middle" font-weight="bold" fill="#111" stroke="#111" stroke-width="0.2" letter-spacing="0.9">***</text>
<path d="M341.32 413.70 V410.10 H353.17 V413.70" fill="none" stroke="#111" stroke-width="0.9"/>
<text x="347.70" y="408.80" font-size="7.4" text-anchor="middle" font-weight="bold" fill="#111" stroke="#111" stroke-width="0.2" letter-spacing="0.9">**</text>
<line x1="411.30" y1="352.10" x2="411.30" y2="424.90" stroke="#111" stroke-width="1.15" />
<line x1="407.90" y1="424.40" x2="513.80" y2="424.40" stroke="#111" stroke-width="1.15" />
<line x1="407.90" y1="424.40" x2="411.30" y2="424.40" stroke="#111" stroke-width="1.0" />
<text x="404.80" y="427.15" font-size="7.8" text-anchor="end" fill="#111" stroke="#111" stroke-width="0.22" >0</text>
<line x1="407.90" y1="410.46" x2="411.30" y2="410.46" stroke="#111" stroke-width="1.0" />
<text x="404.80" y="413.21" font-size="7.8" text-anchor="end" fill="#111" stroke="#111" stroke-width="0.22" >100</text>
<line x1="407.90" y1="396.52" x2="411.30" y2="396.52" stroke="#111" stroke-width="1.0" />
<text x="404.80" y="399.27" font-size="7.8" text-anchor="end" fill="#111" stroke="#111" stroke-width="0.22" >200</text>
<line x1="407.90" y1="382.58" x2="411.30" y2="382.58" stroke="#111" stroke-width="1.0" />
<text x="404.80" y="385.33" font-size="7.8" text-anchor="end" fill="#111" stroke="#111" stroke-width="0.22" >300</text>
<line x1="407.90" y1="368.64" x2="411.30" y2="368.64" stroke="#111" stroke-width="1.0" />
<text x="404.80" y="371.39" font-size="7.8" text-anchor="end" fill="#111" stroke="#111" stroke-width="0.22" >400</text>
<line x1="407.90" y1="354.70" x2="411.30" y2="354.70" stroke="#111" stroke-width="1.0" />
<text x="404.80" y="357.45" font-size="7.8" text-anchor="end" fill="#111" stroke="#111" stroke-width="0.22" >500</text>
<text x="380.50" y="397.55" font-size="8.6" textLength="18.4" lengthAdjust="spacingAndGlyphs" transform="rotate(-90 380.50 397.55)" fill="#111" stroke="#111" stroke-width="0.22" >M F I</text>
<rect x="417.20" y="366.55" width="11.85" height="57.85" fill="#0a0a0a"/>
<rect x="429.05" y="400.42" width="11.85" height="23.98" fill="#7f7f7f"/>
<line x1="423.12" y1="366.55" x2="423.12" y2="363.76" stroke="#0a0a0a" stroke-width="1.1" />
<line x1="420.12" y1="363.76" x2="426.12" y2="363.76" stroke="#0a0a0a" stroke-width="1.1" />
<line x1="434.97" y1="400.42" x2="434.97" y2="399.59" stroke="#1c1c1c" stroke-width="1.1" />
<line x1="431.97" y1="399.59" x2="437.97" y2="399.59" stroke="#1c1c1c" stroke-width="1.1" />
<line x1="428.75" y1="424.40" x2="428.75" y2="427.80" stroke="#111" stroke-width="1.0" />
<text x="432.45" y="433.00" font-size="8.4" text-anchor="end" transform="rotate(-45 432.45 433.00)" fill="#111" stroke="#111" stroke-width="0.3">CD19<tspan dy="-3" font-size="6">+</tspan><tspan dy="3"> CD5</tspan><tspan dy="-3" font-size="6">-</tspan></text>
<rect x="451.20" y="392.06" width="11.85" height="32.34" fill="#0a0a0a"/>
<rect x="463.05" y="415.62" width="11.85" height="8.78" fill="#7f7f7f"/>
<line x1="457.12" y1="392.06" x2="457.12" y2="388.85" stroke="#0a0a0a" stroke-width="1.1" />
<line x1="454.12" y1="388.85" x2="460.12" y2="388.85" stroke="#0a0a0a" stroke-width="1.1" />
<line x1="468.97" y1="415.62" x2="468.97" y2="414.92" stroke="#1c1c1c" stroke-width="1.1" />
<line x1="465.97" y1="414.92" x2="471.97" y2="414.92" stroke="#1c1c1c" stroke-width="1.1" />
<line x1="462.75" y1="424.40" x2="462.75" y2="427.80" stroke="#111" stroke-width="1.0" />
<text x="466.45" y="433.00" font-size="8.4" text-anchor="end" transform="rotate(-45 466.45 433.00)" fill="#111" stroke="#111" stroke-width="0.3">CD19<tspan dy="-3" font-size="6">-</tspan><tspan dy="3">CD5</tspan><tspan dy="-3" font-size="6">+</tspan></text>
<rect x="485.40" y="403.77" width="11.85" height="20.63" fill="#0a0a0a"/>
<rect x="497.25" y="415.62" width="11.85" height="8.78" fill="#7f7f7f"/>
<line x1="491.32" y1="403.77" x2="491.32" y2="396.80" stroke="#0a0a0a" stroke-width="1.1" />
<line x1="488.32" y1="396.80" x2="494.32" y2="396.80" stroke="#0a0a0a" stroke-width="1.1" />
<line x1="503.17" y1="415.62" x2="503.17" y2="413.81" stroke="#1c1c1c" stroke-width="1.1" />
<line x1="500.17" y1="413.81" x2="506.17" y2="413.81" stroke="#1c1c1c" stroke-width="1.1" />
<line x1="496.95" y1="424.40" x2="496.95" y2="427.80" stroke="#111" stroke-width="1.0" />
<text x="500.65" y="433.00" font-size="8.4" text-anchor="end" transform="rotate(-45 500.65 433.00)" fill="#111" stroke="#111" stroke-width="0.3">CD19<tspan dy="-3" font-size="6">-</tspan><tspan dy="3">CD5</tspan><tspan dy="-3" font-size="6">-</tspan></text>
<rect x="464.20" y="341.00" width="5.80" height="5.70" fill="#0a0a0a"/>
<rect x="464.20" y="350.80" width="5.80" height="5.70" fill="#7f7f7f"/>
<text x="473.30" y="346.70" font-size="8.3" textLength="19.3" lengthAdjust="spacingAndGlyphs" fill="#111" stroke="#111" stroke-width="0.22" >HM14</text>
<text x="473.20" y="356.40" font-size="8.3" textLength="23.6" lengthAdjust="spacingAndGlyphs" fill="#111" stroke="#111" stroke-width="0.22" >isotype</text>
<path d="M423.12 361.30 V357.70 H434.97 V361.30" fill="none" stroke="#111" stroke-width="0.9"/>
<text x="429.50" y="356.40" font-size="7.4" text-anchor="middle" font-weight="bold" fill="#111" stroke="#111" stroke-width="0.2" letter-spacing="0.9">***</text>
<path d="M457.12 385.60 V382.00 H468.97 V385.60" fill="none" stroke="#111" stroke-width="0.9"/>
<text x="463.50" y="380.70" font-size="7.4" text-anchor="middle" font-weight="bold" fill="#111" stroke="#111" stroke-width="0.2" letter-spacing="0.9">***</text>
<path d="M491.32 393.90 V390.30 H503.17 V393.90" fill="none" stroke="#111" stroke-width="0.9"/>
<text x="497.70" y="389.00" font-size="7.4" text-anchor="middle" font-weight="bold" fill="#111" stroke="#111" stroke-width="0.2" letter-spacing="0.9">*</text>
<line x1="46.20" y1="541.40" x2="46.20" y2="611.40" stroke="#111" stroke-width="1.15" />
<line x1="42.80" y1="610.90" x2="148.60" y2="610.90" stroke="#111" stroke-width="1.1" />
<line x1="42.80" y1="610.90" x2="46.20" y2="610.90" stroke="#111" stroke-width="1.0" />
<text x="40.70" y="613.80" font-size="8.1" text-anchor="end" fill="#111" stroke="#111" stroke-width="0.22" >0</text>
<line x1="42.80" y1="597.48" x2="46.20" y2="597.48" stroke="#111" stroke-width="1.0" />
<text x="40.70" y="600.38" font-size="8.1" text-anchor="end" fill="#111" stroke="#111" stroke-width="0.22" >2</text>
<line x1="42.80" y1="584.06" x2="46.20" y2="584.06" stroke="#111" stroke-width="1.0" />
<text x="40.70" y="586.96" font-size="8.1" text-anchor="end" fill="#111" stroke="#111" stroke-width="0.22" >4</text>
<line x1="42.80" y1="570.64" x2="46.20" y2="570.64" stroke="#111" stroke-width="1.0" />
<text x="40.70" y="573.54" font-size="8.1" text-anchor="end" fill="#111" stroke="#111" stroke-width="0.22" >6</text>
<line x1="42.80" y1="557.22" x2="46.20" y2="557.22" stroke="#111" stroke-width="1.0" />
<text x="40.70" y="560.12" font-size="8.1" text-anchor="end" fill="#111" stroke="#111" stroke-width="0.22" >8</text>
<line x1="42.80" y1="543.80" x2="46.20" y2="543.80" stroke="#111" stroke-width="1.0" />
<text x="40.70" y="546.70" font-size="8.1" text-anchor="end" fill="#111" stroke="#111" stroke-width="0.22" >10</text>
<text x="26.30" y="602.00" font-size="9.8" textLength="53.5" lengthAdjust="spacingAndGlyphs" transform="rotate(-90 26.30 602.00)" fill="#111" stroke="#111" stroke-width="0.22" >Relative levels</text>
<line x1="71.60" y1="610.90" x2="71.60" y2="614.40" stroke="#111" stroke-width="1.0" />
<line x1="122.00" y1="610.90" x2="122.00" y2="614.40" stroke="#111" stroke-width="1.0" />
<text x="71.60" y="623.80" font-size="8.2" text-anchor="middle" fill="#111" stroke="#111" stroke-width="0.22" >CLL</text>
<text x="71.60" y="633.70" font-size="8.2" text-anchor="middle" fill="#111" stroke="#111" stroke-width="0.22" >cells</text>
<text x="122.00" y="623.80" font-size="8.2" text-anchor="middle" fill="#111" stroke="#111" stroke-width="0.22" >healthy</text>
<text x="122.00" y="633.70" font-size="8.2" text-anchor="middle" fill="#111" stroke="#111" stroke-width="0.22" >B cells</text>
<line x1="54.80" y1="593.80" x2="88.50" y2="593.80" stroke="#111" stroke-width="1.0" />
<line x1="71.60" y1="581.60" x2="71.60" y2="606.20" stroke="#111" stroke-width="0.9" />
<line x1="63.00" y1="581.60" x2="79.80" y2="581.60" stroke="#111" stroke-width="1.0" />
<line x1="63.00" y1="606.20" x2="79.80" y2="606.20" stroke="#111" stroke-width="1.0" />
<circle cx="71.60" cy="557.40" r="1.55" fill="#0a0a0a"/>
<circle cx="69.20" cy="589.80" r="1.55" fill="#0a0a0a"/>
<circle cx="73.50" cy="589.20" r="1.55" fill="#0a0a0a"/>
<circle cx="68.30" cy="592.70" r="1.55" fill="#0a0a0a"/>
<circle cx="71.50" cy="595.60" r="1.55" fill="#0a0a0a"/>
<circle cx="77.30" cy="595.00" r="1.55" fill="#0a0a0a"/>
<circle cx="67.70" cy="598.80" r="1.55" fill="#0a0a0a"/>
<circle cx="75.40" cy="598.30" r="1.55" fill="#0a0a0a"/>
<circle cx="72.10" cy="600.80" r="1.55" fill="#0a0a0a"/>
<circle cx="66.30" cy="602.30" r="1.55" fill="#0a0a0a"/>
<circle cx="77.90" cy="602.30" r="1.55" fill="#0a0a0a"/>
<circle cx="70.20" cy="605.20" r="1.55" fill="#0a0a0a"/>
<circle cx="73.50" cy="605.20" r="1.55" fill="#0a0a0a"/>
<line x1="105.40" y1="604.20" x2="138.80" y2="604.20" stroke="#111" stroke-width="1.0" />
<line x1="122.00" y1="600.80" x2="122.00" y2="607.60" stroke="#111" stroke-width="0.9" />
<line x1="112.50" y1="600.80" x2="131.60" y2="600.80" stroke="#111" stroke-width="1.0" />
<line x1="112.50" y1="607.60" x2="131.60" y2="607.60" stroke="#111" stroke-width="1.0" />
<circle cx="121.70" cy="597.50" r="1.45" fill="#0a0a0a"/>
<circle cx="112.50" cy="600.40" r="1.45" fill="#0a0a0a"/>
<circle cx="116.30" cy="600.40" r="1.45" fill="#0a0a0a"/>
<circle cx="120.20" cy="600.40" r="1.45" fill="#0a0a0a"/>
<circle cx="124.00" cy="600.40" r="1.45" fill="#0a0a0a"/>
<circle cx="127.90" cy="600.40" r="1.45" fill="#0a0a0a"/>
<circle cx="131.70" cy="600.40" r="1.45" fill="#0a0a0a"/>
<circle cx="118.30" cy="603.00" r="1.45" fill="#0a0a0a"/>
<circle cx="123.10" cy="602.80" r="1.45" fill="#0a0a0a"/>
<circle cx="111.20" cy="606.50" r="1.45" fill="#0a0a0a"/>
<circle cx="114.40" cy="606.50" r="1.45" fill="#0a0a0a"/>
<circle cx="117.70" cy="606.50" r="1.45" fill="#0a0a0a"/>
<circle cx="121.20" cy="606.50" r="1.45" fill="#0a0a0a"/>
<circle cx="124.60" cy="606.50" r="1.45" fill="#0a0a0a"/>
<circle cx="127.90" cy="606.50" r="1.45" fill="#0a0a0a"/>
<circle cx="131.20" cy="606.50" r="1.45" fill="#0a0a0a"/>
<circle cx="134.00" cy="606.50" r="1.45" fill="#0a0a0a"/>
<circle cx="116.30" cy="608.00" r="1.45" fill="#0a0a0a"/>
<circle cx="120.20" cy="608.00" r="1.45" fill="#0a0a0a"/>
<circle cx="124.00" cy="608.00" r="1.45" fill="#0a0a0a"/>
<circle cx="127.90" cy="608.00" r="1.45" fill="#0a0a0a"/>
<path d="M71.6 554.8 V551.7 H122 V554.8" fill="none" stroke="#111" stroke-width="0.9"/>
<text x="97.00" y="550.40" font-size="7.4" text-anchor="middle" font-weight="bold" fill="#111" stroke="#111" stroke-width="0.2" letter-spacing="0.9">**</text>
<text x="147.00" y="554.60" font-size="9.4" font-weight="bold" textLength="23.2" lengthAdjust="spacingAndGlyphs" fill="#111" stroke="#111" stroke-width="0.2" >FcμR</text>
<line x1="214.70" y1="540.60" x2="214.70" y2="611.40" stroke="#111" stroke-width="1.15" />
<line x1="211.30" y1="610.90" x2="316.80" y2="610.90" stroke="#111" stroke-width="1.1" />
<line x1="211.30" y1="610.90" x2="214.70" y2="610.90" stroke="#111" stroke-width="1.0" />
<text x="209.10" y="613.80" font-size="8.1" text-anchor="end" fill="#111" stroke="#111" stroke-width="0.22" >0</text>
<line x1="211.30" y1="593.92" x2="214.70" y2="593.92" stroke="#111" stroke-width="1.0" />
<text x="209.10" y="596.82" font-size="8.1" text-anchor="end" fill="#111" stroke="#111" stroke-width="0.22" >10</text>
<line x1="211.30" y1="576.95" x2="214.70" y2="576.95" stroke="#111" stroke-width="1.0" />
<text x="209.10" y="579.85" font-size="8.1" text-anchor="end" fill="#111" stroke="#111" stroke-width="0.22" >20</text>
<line x1="211.30" y1="559.98" x2="214.70" y2="559.98" stroke="#111" stroke-width="1.0" />
<text x="209.10" y="562.88" font-size="8.1" text-anchor="end" fill="#111" stroke="#111" stroke-width="0.22" >30</text>
<line x1="211.30" y1="543.00" x2="214.70" y2="543.00" stroke="#111" stroke-width="1.0" />
<text x="209.10" y="545.90" font-size="8.1" text-anchor="end" fill="#111" stroke="#111" stroke-width="0.22" >40</text>
<text x="194.70" y="603.50" font-size="9.0" textLength="55.0" lengthAdjust="spacingAndGlyphs" transform="rotate(-90 194.70 603.50)" fill="#111" stroke="#111" stroke-width="0.22" >M F I [x 1,000]</text>
<line x1="240.30" y1="610.90" x2="240.30" y2="614.40" stroke="#111" stroke-width="1.0" />
<line x1="291.70" y1="610.90" x2="291.70" y2="614.40" stroke="#111" stroke-width="1.0" />
<text x="240.30" y="623.80" font-size="8.2" text-anchor="middle" fill="#111" stroke="#111" stroke-width="0.22" >CLL</text>
<text x="240.30" y="633.70" font-size="8.2" text-anchor="middle" fill="#111" stroke="#111" stroke-width="0.22" >cells</text>
<text x="291.70" y="623.80" font-size="8.2" text-anchor="middle" fill="#111" stroke="#111" stroke-width="0.22" >healthy</text>
<text x="291.70" y="633.70" font-size="8.2" text-anchor="middle" fill="#111" stroke="#111" stroke-width="0.22" >B cells</text>
<line x1="225.20" y1="574.80" x2="256.20" y2="574.80" stroke="#111" stroke-width="1.0" />
<line x1="240.30" y1="569.20" x2="240.30" y2="580.20" stroke="#111" stroke-width="0.9" />
<line x1="233.30" y1="569.20" x2="248.10" y2="569.20" stroke="#111" stroke-width="1.0" />
<line x1="233.30" y1="580.20" x2="248.10" y2="580.20" stroke="#111" stroke-width="1.0" />
<circle cx="240.50" cy="567.60" r="1.55" fill="#0a0a0a"/>
<circle cx="238.90" cy="571.90" r="1.55" fill="#0a0a0a"/>
<circle cx="242.30" cy="573.60" r="1.55" fill="#0a0a0a"/>
<circle cx="242.30" cy="579.30" r="1.55" fill="#0a0a0a"/>
<circle cx="238.90" cy="581.60" r="1.55" fill="#0a0a0a"/>
<line x1="275.50" y1="561.90" x2="307.30" y2="561.90" stroke="#111" stroke-width="1.0" />
<line x1="291.70" y1="556.50" x2="291.70" y2="567.30" stroke="#111" stroke-width="0.9" />
<line x1="283.90" y1="556.50" x2="299.80" y2="556.50" stroke="#111" stroke-width="1.0" />
<line x1="283.90" y1="567.30" x2="299.80" y2="567.30" stroke="#111" stroke-width="1.0" />
<circle cx="287.90" cy="556.00" r="1.55" fill="#0a0a0a"/>
<circle cx="295.20" cy="557.10" r="1.55" fill="#0a0a0a"/>
<circle cx="291.20" cy="559.20" r="1.55" fill="#0a0a0a"/>
<circle cx="287.10" cy="563.30" r="1.55" fill="#0a0a0a"/>
<circle cx="295.20" cy="562.70" r="1.55" fill="#0a0a0a"/>
<circle cx="291.70" cy="566.00" r="1.55" fill="#0a0a0a"/>
<circle cx="291.20" cy="570.80" r="1.55" fill="#0a0a0a"/>
<path d="M240.3 554.6 V551.7 H291.7 V554.6" fill="none" stroke="#111" stroke-width="0.9"/>
<text x="266.80" y="550.40" font-size="7.4" text-anchor="middle" font-weight="bold" fill="#111" stroke="#111" stroke-width="0.2" letter-spacing="0.9">**</text>
<text x="316.20" y="556.00" font-size="9.4" font-weight="bold" textLength="23.4" lengthAdjust="spacingAndGlyphs" fill="#111" stroke="#111" stroke-width="0.2" >CD19</text>
</g>
</svg>
</body></html>
